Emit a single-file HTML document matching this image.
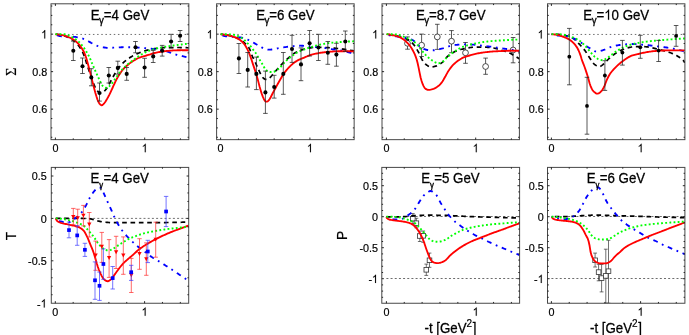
<!DOCTYPE html>
<html><head><meta charset="utf-8"><title>figure</title>
<style>
html,body{margin:0;padding:0;background:#fff;}
body{width:689px;height:335px;overflow:hidden;}
svg{display:block;will-change:transform;}
text{font-family:"Liberation Sans",sans-serif;fill:#000;stroke:#000;stroke-width:0.18px;}
.tk{font-size:10.8px;}
.tt{font-size:13.3px;stroke-width:0.26px;}
.sub{font-size:9.8px;stroke-width:0.3px;}
.sup{font-size:10px;}
.sub2{font-size:7.8px;stroke-width:0.35px;}
.c{fill:none;stroke-linecap:butt;stroke-linejoin:round;}
</style></head><body>
<svg width="689" height="335" viewBox="0 0 689 335">
<rect x="0" y="0" width="689" height="335" fill="#fff"/>
<clipPath id="cp1"><rect x="51" y="3.8" width="137.85" height="135.85"/></clipPath>
<line x1="55.4" y1="34.45" x2="188.85" y2="34.45" stroke="#6e6e6e" stroke-width="1.0" stroke-dasharray="1.5 2.67"/>
<g class="c" clip-path="url(#cp1)">
<path d="M55.40,34.20 L56.40,34.28 L57.40,34.39 L58.40,34.54 L59.40,34.71 L60.40,34.89 L61.40,35.10 L62.40,35.31 L63.40,35.57 L64.40,35.87 L65.40,36.21 L66.40,36.59 L67.40,36.99 L68.40,37.42 L69.40,37.91 L70.40,38.45 L71.40,39.05 L72.40,39.71 L73.40,40.43 L74.40,41.23 L75.40,42.15 L76.40,43.18 L77.40,44.30 L78.40,45.48 L79.40,46.78 L80.40,48.22 L81.40,49.83 L82.40,51.67 L83.40,53.81 L84.40,56.26 L85.40,59.34 L86.40,62.72 L87.40,65.83 L88.40,68.79 L89.40,71.71 L90.40,74.62 L91.40,77.49 L92.40,80.28 L93.40,83.11 L94.40,85.72 L95.40,87.78 L96.40,89.54 L97.40,90.89 L98.40,91.94 L99.40,92.74 L100.40,92.89 L101.40,92.76 L102.40,92.55 L103.40,92.00 L104.40,91.11 L105.40,90.04 L106.40,88.85 L107.40,87.28 L108.40,85.50 L109.40,83.70 L110.40,81.88 L111.40,79.97 L112.40,78.06 L113.40,76.24 L114.40,74.55 L115.40,72.92 L116.40,71.35 L117.40,69.87 L118.40,68.46 L119.40,67.10 L120.40,65.79 L121.40,64.58 L122.40,63.50 L123.40,62.55 L124.40,61.67 L125.40,60.86 L126.40,60.10 L127.40,59.37 L128.40,58.67 L129.40,57.98 L130.40,57.33 L131.40,56.70 L132.40,56.11 L133.40,55.55 L134.40,55.03 L135.40,54.55 L136.40,54.09 L137.40,53.64 L138.40,53.20 L139.40,52.77 L140.40,52.37 L141.40,51.99 L142.40,51.63 L143.40,51.30 L144.40,50.98 L145.40,50.67 L146.40,50.37 L147.40,50.09 L148.40,49.83 L149.40,49.59 L150.40,49.38 L151.40,49.19 L152.40,49.01 L153.40,48.85 L154.40,48.69 L155.40,48.55 L156.40,48.41 L157.40,48.29 L158.40,48.18 L159.40,48.08 L160.40,47.98 L161.40,47.88 L162.40,47.79 L163.40,47.70 L164.40,47.62 L165.40,47.56 L166.40,47.52 L167.40,47.50 L168.40,47.50 L169.40,47.50 L170.40,47.50 L171.40,47.50 L172.40,47.50 L173.40,47.50 L174.40,47.50 L175.40,47.50 L176.40,47.50 L177.40,47.50 L178.40,47.51 L179.40,47.52 L180.40,47.53 L181.40,47.55 L182.40,47.58 L183.40,47.61 L184.40,47.64 L185.40,47.67 L186.40,47.71 L187.40,47.75 L188.40,47.78 L188.80,47.80" stroke="#000000" stroke-width="1.7" stroke-dasharray="4.65 3.7" stroke-dashoffset="7.76"/>
<path d="M55.40,34.20 L56.40,34.85 L57.40,35.38 L58.40,35.72 L59.40,35.98 L60.40,36.20 L61.40,36.35 L62.40,36.42 L63.40,36.47 L64.40,36.50 L65.40,36.53 L66.40,36.56 L67.40,36.58 L68.40,36.61 L69.40,36.64 L70.40,36.67 L71.40,36.69 L72.40,36.73 L73.40,36.77 L74.40,36.83 L75.40,36.94 L76.40,37.10 L77.40,37.29 L78.40,37.48 L79.40,37.69 L80.40,37.92 L81.40,38.18 L82.40,38.48 L83.40,38.80 L84.40,39.19 L85.40,39.66 L86.40,40.19 L87.40,40.74 L88.40,41.29 L89.40,41.83 L90.40,42.39 L91.40,42.96 L92.40,43.50 L93.40,44.03 L94.40,44.57 L95.40,45.10 L96.40,45.57 L97.40,45.97 L98.40,46.28 L99.40,46.55 L100.40,46.79 L101.40,47.00 L102.40,47.19 L103.40,47.35 L104.40,47.51 L105.40,47.66 L106.40,47.76 L107.40,47.80 L108.40,47.79 L109.40,47.78 L110.40,47.76 L111.40,47.73 L112.40,47.71 L113.40,47.68 L114.40,47.64 L115.40,47.60 L116.40,47.55 L117.40,47.50 L118.40,47.45 L119.40,47.39 L120.40,47.33 L121.40,47.26 L122.40,47.21 L123.40,47.20 L124.40,47.20 L125.40,47.20 L126.40,47.20 L127.40,47.20 L128.40,47.20 L129.40,47.20 L130.40,47.21 L131.40,47.24 L132.40,47.28 L133.40,47.32 L134.40,47.37 L135.40,47.42 L136.40,47.47 L137.40,47.53 L138.40,47.59 L139.40,47.66 L140.40,47.73 L141.40,47.81 L142.40,47.89 L143.40,47.97 L144.40,48.06 L145.40,48.14 L146.40,48.23 L147.40,48.33 L148.40,48.43 L149.40,48.54 L150.40,48.65 L151.40,48.77 L152.40,48.89 L153.40,49.03 L154.40,49.18 L155.40,49.34 L156.40,49.52 L157.40,49.71 L158.40,49.90 L159.40,50.09 L160.40,50.27 L161.40,50.46 L162.40,50.64 L163.40,50.82 L164.40,51.01 L165.40,51.22 L166.40,51.44 L167.40,51.67 L168.40,51.95 L169.40,52.27 L170.40,52.63 L171.40,53.00 L172.40,53.39 L173.40,53.77 L174.40,54.13 L175.40,54.45 L176.40,54.74 L177.40,55.00 L178.40,55.24 L179.40,55.47 L180.40,55.70 L181.40,55.92 L182.40,56.15 L183.40,56.38 L184.40,56.63 L185.40,56.88 L186.40,57.15 L187.40,57.42 L188.40,57.69 L188.80,57.80" stroke="#0000ff" stroke-width="1.85" stroke-dasharray="4.8 4.7 1.8 4.7" stroke-dashoffset="13.96"/>
<path d="M55.40,34.30 L56.40,34.35 L57.40,34.44 L58.40,34.55 L59.40,34.69 L60.40,34.84 L61.40,35.01 L62.40,35.19 L63.40,35.42 L64.40,35.70 L65.40,36.01 L66.40,36.35 L67.40,36.71 L68.40,37.09 L69.40,37.50 L70.40,37.96 L71.40,38.45 L72.40,38.99 L73.40,39.59 L74.40,40.23 L75.40,40.98 L76.40,41.83 L77.40,42.76 L78.40,43.78 L79.40,44.90 L80.40,46.19 L81.40,47.64 L82.40,49.23 L83.40,51.00 L84.40,53.02 L85.40,55.42 L86.40,58.55 L87.40,62.09 L88.40,65.69 L89.40,69.46 L90.40,73.36 L91.40,77.30 L92.40,81.36 L93.40,85.39 L94.40,89.30 L95.40,92.98 L96.40,96.30 L97.40,99.35 L98.40,101.76 L99.40,103.69 L100.40,104.73 L101.40,105.28 L102.40,105.01 L103.40,104.11 L104.40,103.07 L105.40,101.73 L106.40,100.11 L107.40,98.34 L108.40,96.54 L109.40,94.61 L110.40,92.53 L111.40,90.41 L112.40,88.24 L113.40,85.99 L114.40,83.81 L115.40,81.72 L116.40,79.68 L117.40,77.79 L118.40,76.10 L119.40,74.50 L120.40,72.98 L121.40,71.55 L122.40,70.23 L123.40,69.03 L124.40,67.96 L125.40,66.98 L126.40,66.07 L127.40,65.22 L128.40,64.41 L129.40,63.63 L130.40,62.87 L131.40,62.15 L132.40,61.45 L133.40,60.80 L134.40,60.18 L135.40,59.59 L136.40,59.02 L137.40,58.48 L138.40,58.01 L139.40,57.61 L140.40,57.27 L141.40,56.96 L142.40,56.67 L143.40,56.38 L144.40,56.08 L145.40,55.78 L146.40,55.49 L147.40,55.19 L148.40,54.90 L149.40,54.59 L150.40,54.27 L151.40,53.90 L152.40,53.54 L153.40,53.25 L154.40,53.01 L155.40,52.78 L156.40,52.57 L157.40,52.37 L158.40,52.18 L159.40,52.01 L160.40,51.85 L161.40,51.70 L162.40,51.55 L163.40,51.42 L164.40,51.29 L165.40,51.16 L166.40,51.03 L167.40,50.91 L168.40,50.81 L169.40,50.71 L170.40,50.62 L171.40,50.55 L172.40,50.50 L173.40,50.45 L174.40,50.40 L175.40,50.36 L176.40,50.32 L177.40,50.28 L178.40,50.25 L179.40,50.23 L180.40,50.21 L181.40,50.20 L182.40,50.20 L183.40,50.20 L184.40,50.20 L185.40,50.20 L186.40,50.20 L187.40,50.20 L188.40,50.20 L188.80,50.20" stroke="#ff0000" stroke-width="1.85"/>
<path d="M55.40,34.10 L56.40,34.10 L57.40,34.11 L58.40,34.12 L59.40,34.13 L60.40,34.15 L61.40,34.18 L62.40,34.21 L63.40,34.24 L64.40,34.28 L65.40,34.33 L66.40,34.53 L67.40,34.86 L68.40,35.30 L69.40,35.80 L70.40,36.33 L71.40,36.85 L72.40,37.36 L73.40,37.92 L74.40,38.52 L75.40,39.17 L76.40,39.88 L77.40,40.63 L78.40,41.44 L79.40,42.34 L80.40,43.39 L81.40,44.55 L82.40,45.80 L83.40,47.10 L84.40,48.52 L85.40,50.06 L86.40,51.67 L87.40,53.36 L88.40,55.17 L89.40,57.13 L90.40,59.30 L91.40,61.71 L92.40,64.10 L93.40,66.44 L94.40,68.75 L95.40,71.03 L96.40,73.27 L97.40,75.49 L98.40,77.65 L99.40,79.70 L100.40,81.84 L101.40,83.93 L102.40,85.56 L103.40,86.53 L104.40,87.30 L105.40,87.75 L106.40,87.74 L107.40,87.44 L108.40,87.00 L109.40,86.21 L110.40,85.18 L111.40,84.08 L112.40,82.85 L113.40,81.46 L114.40,80.00 L115.40,78.54 L116.40,77.15 L117.40,75.73 L118.40,74.31 L119.40,72.91 L120.40,71.59 L121.40,70.39 L122.40,69.28 L123.40,68.24 L124.40,67.26 L125.40,66.33 L126.40,65.44 L127.40,64.60 L128.40,63.80 L129.40,63.03 L130.40,62.27 L131.40,61.53 L132.40,60.77 L133.40,60.01 L134.40,59.26 L135.40,58.51 L136.40,57.78 L137.40,57.08 L138.40,56.40 L139.40,55.75 L140.40,55.13 L141.40,54.54 L142.40,53.98 L143.40,53.42 L144.40,52.88 L145.40,52.36 L146.40,51.87 L147.40,51.41 L148.40,51.00 L149.40,50.62 L150.40,50.26 L151.40,49.92 L152.40,49.60 L153.40,49.30 L154.40,49.02 L155.40,48.75 L156.40,48.50 L157.40,48.27 L158.40,48.06 L159.40,47.85 L160.40,47.65 L161.40,47.46 L162.40,47.27 L163.40,47.09 L164.40,46.91 L165.40,46.73 L166.40,46.55 L167.40,46.39 L168.40,46.23 L169.40,46.07 L170.40,45.93 L171.40,45.80 L172.40,45.67 L173.40,45.55 L174.40,45.43 L175.40,45.31 L176.40,45.19 L177.40,45.06 L178.40,44.93 L179.40,44.80 L180.40,44.67 L181.40,44.53 L182.40,44.40 L183.40,44.27 L184.40,44.15 L185.40,44.03 L186.40,43.92 L187.40,43.82 L188.40,43.73 L188.80,43.70" stroke="#00ff00" stroke-width="1.9" stroke-dasharray="1.85 2.3" stroke-dashoffset="0"/>
</g>
<g clip-path="url(#cp1)">
<path d="M73.3,41.1V60.5M71,41.1H75.6M71,60.5H75.6" stroke="#222" stroke-width="0.75" fill="none"/>
<path d="M82.5,58V73.5M80.2,58H84.8M80.2,73.5H84.8" stroke="#222" stroke-width="0.75" fill="none"/>
<path d="M91.3,68.7V85.8M89,68.7H93.6M89,85.8H93.6" stroke="#222" stroke-width="0.75" fill="none"/>
<path d="M99.5,83V101.1M97.2,83H101.8M97.2,101.1H101.8" stroke="#222" stroke-width="0.75" fill="none"/>
<path d="M108.8,67.5V83M106.5,67.5H111.1M106.5,83H111.1" stroke="#222" stroke-width="0.75" fill="none"/>
<path d="M117.8,61.2V74.1M115.5,61.2H120.1M115.5,74.1H120.1" stroke="#222" stroke-width="0.75" fill="none"/>
<path d="M126.7,67.5V80.3M124.4,67.5H129M124.4,80.3H129" stroke="#222" stroke-width="0.75" fill="none"/>
<path d="M135.5,41.5V52.8M133.2,41.5H137.8M133.2,52.8H137.8" stroke="#222" stroke-width="0.75" fill="none"/>
<path d="M144.6,58.3V77.3M142.3,58.3H146.9M142.3,77.3H146.9" stroke="#222" stroke-width="0.75" fill="none"/>
<path d="M153.2,50.4V62.5M150.9,50.4H155.5M150.9,62.5H155.5" stroke="#222" stroke-width="0.75" fill="none"/>
<path d="M162.2,45.4V56.1M159.9,45.4H164.5M159.9,56.1H164.5" stroke="#222" stroke-width="0.75" fill="none"/>
<path d="M171.1,34.3V48.1M168.8,34.3H173.4M168.8,48.1H173.4" stroke="#222" stroke-width="0.75" fill="none"/>
<path d="M180.1,30.5V41.5M177.8,30.5H182.4M177.8,41.5H182.4" stroke="#222" stroke-width="0.75" fill="none"/>
<circle cx="73.3" cy="50.7" r="2.05" fill="#000"/>
<circle cx="82.5" cy="66.3" r="2.05" fill="#000"/>
<circle cx="91.3" cy="77.4" r="2.05" fill="#000"/>
<circle cx="99.5" cy="93" r="2.05" fill="#000"/>
<circle cx="108.8" cy="75.5" r="2.05" fill="#000"/>
<circle cx="117.8" cy="67.9" r="2.05" fill="#000"/>
<circle cx="126.7" cy="73.9" r="2.05" fill="#000"/>
<circle cx="135.5" cy="47.2" r="2.05" fill="#000"/>
<circle cx="144.6" cy="67.5" r="2.05" fill="#000"/>
<circle cx="153.2" cy="56.4" r="2.05" fill="#000"/>
<circle cx="162.2" cy="50.8" r="2.05" fill="#000"/>
<circle cx="171.1" cy="41.5" r="2.05" fill="#000"/>
<circle cx="180.1" cy="35.8" r="2.05" fill="#000"/>
</g>
<rect x="51" y="3.8" width="137.85" height="135.85" fill="none" stroke="#484848" stroke-width="1.0"/>
<path d="M55.4,139.65v-2.1M55.4,3.8v2.1M73.26,139.65v-1.3M73.26,3.8v1.3M91.12,139.65v-1.3M91.12,3.8v1.3M108.98,139.65v-1.3M108.98,3.8v1.3M126.84,139.65v-1.3M126.84,3.8v1.3M144.7,139.65v-2.1M144.7,3.8v2.1M162.56,139.65v-1.3M162.56,3.8v1.3M180.42,139.65v-1.3M180.42,3.8v1.3M51,137.28h1.3M188.85,137.28h-1.3M51,127.9h1.3M188.85,127.9h-1.3M51,118.52h1.3M188.85,118.52h-1.3M51,109.15h2.1M188.85,109.15h-2.1M51,99.78h1.3M188.85,99.78h-1.3M51,90.4h1.3M188.85,90.4h-1.3M51,81.03h1.3M188.85,81.03h-1.3M51,71.65h2.1M188.85,71.65h-2.1M51,62.27h1.3M188.85,62.27h-1.3M51,52.9h1.3M188.85,52.9h-1.3M51,43.53h1.3M188.85,43.53h-1.3M51,34.15h2.1M188.85,34.15h-2.1M51,24.77h1.3M188.85,24.77h-1.3M51,15.4h1.3M188.85,15.4h-1.3M51,6.02h1.3M188.85,6.02h-1.3" stroke="#111" stroke-width="0.9" fill="none"/>
<path d="M45.22,38.45H44.27V31.95Q43.93,32.3 43.37,32.65Q42.81,33 42.37,33.18V32.19Q43.17,31.79 43.76,31.22Q44.36,30.64 44.61,30.1H45.22Z" fill="#000" stroke="#000" stroke-width="0.12"/>
<text class="tk" transform="translate(47.2,75.95) scale(1,1.075)" text-anchor="end">0.8</text>
<text class="tk" transform="translate(47.2,113.45) scale(1,1.075)" text-anchor="end">0.6</text>
<text class="tk" transform="translate(55.4,152.15) scale(1,1.075)" text-anchor="middle">0</text>
<path d="M145.72,152.15H144.77V145.65Q144.43,146 143.87,146.35Q143.32,146.7 142.87,146.88V145.89Q143.67,145.49 144.27,144.92Q144.86,144.34 145.11,143.8H145.72Z" fill="#000" stroke="#000" stroke-width="0.12"/>
<text class="tt" transform="translate(90.75,19.85) scale(1,1.075)">E</text>
<text class="sub" transform="translate(99.12,23.75) scale(1,1.075)">&#947;</text>
<text class="tt" transform="translate(103.82,19.85) scale(1,1.075)">=4 GeV</text>
<text x="0" y="0" font-size="13.8px" text-anchor="middle" style="font-family:&quot;Liberation Serif&quot;" transform="translate(15.7,71.73) rotate(-90)">&#931;</text>
<clipPath id="cp2"><rect x="216.6" y="3.8" width="137.55" height="135.85"/></clipPath>
<line x1="220.6" y1="34.45" x2="354.15" y2="34.45" stroke="#6e6e6e" stroke-width="1.0" stroke-dasharray="1.5 2.67"/>
<g class="c" clip-path="url(#cp2)">
<path d="M220.70,34.20 L221.70,34.28 L222.70,34.38 L223.70,34.50 L224.70,34.64 L225.70,34.79 L226.70,34.95 L227.70,35.13 L228.70,35.33 L229.70,35.57 L230.70,35.83 L231.70,36.11 L232.70,36.41 L233.70,36.73 L234.70,37.08 L235.70,37.47 L236.70,37.89 L237.70,38.35 L238.70,38.84 L239.70,39.39 L240.70,40.01 L241.70,40.70 L242.70,41.45 L243.70,42.25 L244.70,43.11 L245.70,44.05 L246.70,45.09 L247.70,46.23 L248.70,47.48 L249.70,49.09 L250.70,51.73 L251.70,54.73 L252.70,57.06 L253.70,59.07 L254.70,61.08 L255.70,63.26 L256.70,65.53 L257.70,67.78 L258.70,69.94 L259.70,72.17 L260.70,74.30 L261.70,76.08 L262.70,77.39 L263.70,78.46 L264.70,79.09 L265.70,79.44 L266.70,79.45 L267.70,79.12 L268.70,78.60 L269.70,77.76 L270.70,76.82 L271.70,75.76 L272.70,74.59 L273.70,73.37 L274.70,72.16 L275.70,71.02 L276.70,69.88 L277.70,68.75 L278.70,67.63 L279.70,66.52 L280.70,65.42 L281.70,64.32 L282.70,63.24 L283.70,62.19 L284.70,61.20 L285.70,60.27 L286.70,59.38 L287.70,58.52 L288.70,57.68 L289.70,56.83 L290.70,55.94 L291.70,55.06 L292.70,54.27 L293.70,53.62 L294.70,53.02 L295.70,52.46 L296.70,51.94 L297.70,51.46 L298.70,51.02 L299.70,50.62 L300.70,50.26 L301.70,49.91 L302.70,49.58 L303.70,49.27 L304.70,48.98 L305.70,48.72 L306.70,48.48 L307.70,48.27 L308.70,48.10 L309.70,47.94 L310.70,47.79 L311.70,47.64 L312.70,47.51 L313.70,47.39 L314.70,47.30 L315.70,47.23 L316.70,47.20 L317.70,47.20 L318.70,47.22 L319.70,47.24 L320.70,47.28 L321.70,47.32 L322.70,47.37 L323.70,47.42 L324.70,47.47 L325.70,47.51 L326.70,47.57 L327.70,47.63 L328.70,47.70 L329.70,47.77 L330.70,47.85 L331.70,47.93 L332.70,48.01 L333.70,48.10 L334.70,48.19 L335.70,48.28 L336.70,48.38 L337.70,48.49 L338.70,48.60 L339.70,48.71 L340.70,48.83 L341.70,48.95 L342.70,49.08 L343.70,49.21 L344.70,49.35 L345.70,49.50 L346.70,49.66 L347.70,49.82 L348.70,49.98 L349.70,50.15 L350.70,50.32 L351.70,50.50 L352.70,50.69 L353.70,50.88 L354.30,51.00" stroke="#000000" stroke-width="1.7" stroke-dasharray="4.65 3.7" stroke-dashoffset="1.84"/>
<path d="M220.70,34.20 L221.70,34.90 L222.70,35.51 L223.70,35.93 L224.70,36.12 L225.70,36.25 L226.70,36.35 L227.70,36.43 L228.70,36.50 L229.70,36.58 L230.70,36.65 L231.70,36.72 L232.70,36.78 L233.70,36.84 L234.70,36.90 L235.70,36.98 L236.70,37.06 L237.70,37.15 L238.70,37.25 L239.70,37.36 L240.70,37.50 L241.70,37.68 L242.70,37.91 L243.70,38.19 L244.70,38.51 L245.70,38.86 L246.70,39.23 L247.70,39.62 L248.70,40.02 L249.70,40.49 L250.70,41.01 L251.70,41.58 L252.70,42.17 L253.70,42.78 L254.70,43.38 L255.70,43.96 L256.70,44.54 L257.70,45.14 L258.70,45.75 L259.70,46.35 L260.70,46.92 L261.70,47.45 L262.70,47.95 L263.70,48.45 L264.70,48.90 L265.70,49.23 L266.70,49.43 L267.70,49.58 L268.70,49.68 L269.70,49.69 L270.70,49.62 L271.70,49.49 L272.70,49.34 L273.70,49.18 L274.70,48.98 L275.70,48.74 L276.70,48.51 L277.70,48.30 L278.70,48.12 L279.70,47.96 L280.70,47.80 L281.70,47.65 L282.70,47.51 L283.70,47.36 L284.70,47.21 L285.70,47.06 L286.70,46.90 L287.70,46.74 L288.70,46.59 L289.70,46.44 L290.70,46.32 L291.70,46.22 L292.70,46.14 L293.70,46.05 L294.70,45.98 L295.70,45.91 L296.70,45.84 L297.70,45.79 L298.70,45.74 L299.70,45.71 L300.70,45.70 L301.70,45.71 L302.70,45.75 L303.70,45.82 L304.70,45.90 L305.70,46.00 L306.70,46.10 L307.70,46.20 L308.70,46.30 L309.70,46.39 L310.70,46.50 L311.70,46.60 L312.70,46.71 L313.70,46.83 L314.70,46.94 L315.70,47.06 L316.70,47.17 L317.70,47.27 L318.70,47.38 L319.70,47.48 L320.70,47.57 L321.70,47.68 L322.70,47.78 L323.70,47.89 L324.70,48.01 L325.70,48.14 L326.70,48.29 L327.70,48.46 L328.70,48.63 L329.70,48.82 L330.70,49.00 L331.70,49.17 L332.70,49.33 L333.70,49.48 L334.70,49.61 L335.70,49.74 L336.70,49.87 L337.70,50.00 L338.70,50.14 L339.70,50.29 L340.70,50.45 L341.70,50.63 L342.70,50.82 L343.70,51.04 L344.70,51.26 L345.70,51.50 L346.70,51.74 L347.70,51.99 L348.70,52.25 L349.70,52.50 L350.70,52.77 L351.70,53.04 L352.70,53.33 L353.70,53.62 L354.30,53.80" stroke="#0000ff" stroke-width="1.85" stroke-dasharray="4.8 4.7 1.8 4.7" stroke-dashoffset="13.87"/>
<path d="M220.70,34.30 L221.70,34.38 L222.70,34.48 L223.70,34.61 L224.70,34.75 L225.70,34.90 L226.70,35.07 L227.70,35.25 L228.70,35.45 L229.70,35.69 L230.70,35.95 L231.70,36.23 L232.70,36.54 L233.70,36.87 L234.70,37.24 L235.70,37.65 L236.70,38.11 L237.70,38.62 L238.70,39.18 L239.70,39.82 L240.70,40.57 L241.70,41.44 L242.70,42.42 L243.70,43.50 L244.70,44.77 L245.70,46.27 L246.70,47.98 L247.70,49.90 L248.70,52.17 L249.70,54.69 L250.70,57.37 L251.70,60.32 L252.70,63.39 L253.70,66.39 L254.70,69.34 L255.70,72.37 L256.70,75.64 L257.70,79.34 L258.70,83.13 L259.70,86.93 L260.70,90.39 L261.70,93.62 L262.70,96.34 L263.70,98.73 L264.70,100.56 L265.70,101.51 L266.70,101.64 L267.70,101.30 L268.70,100.36 L269.70,98.98 L270.70,97.23 L271.70,95.25 L272.70,93.29 L273.70,91.43 L274.70,89.56 L275.70,87.70 L276.70,85.87 L277.70,84.03 L278.70,82.22 L279.70,80.45 L280.70,78.70 L281.70,76.97 L282.70,75.31 L283.70,73.81 L284.70,72.44 L285.70,71.15 L286.70,69.93 L287.70,68.77 L288.70,67.66 L289.70,66.59 L290.70,65.58 L291.70,64.67 L292.70,63.84 L293.70,63.06 L294.70,62.32 L295.70,61.63 L296.70,60.99 L297.70,60.41 L298.70,59.89 L299.70,59.42 L300.70,58.99 L301.70,58.58 L302.70,58.19 L303.70,57.78 L304.70,57.36 L305.70,56.94 L306.70,56.51 L307.70,56.09 L308.70,55.69 L309.70,55.32 L310.70,54.99 L311.70,54.70 L312.70,54.42 L313.70,54.16 L314.70,53.92 L315.70,53.69 L316.70,53.48 L317.70,53.29 L318.70,53.11 L319.70,52.95 L320.70,52.78 L321.70,52.63 L322.70,52.49 L323.70,52.35 L324.70,52.22 L325.70,52.11 L326.70,52.00 L327.70,51.91 L328.70,51.82 L329.70,51.74 L330.70,51.66 L331.70,51.58 L332.70,51.51 L333.70,51.45 L334.70,51.39 L335.70,51.35 L336.70,51.31 L337.70,51.29 L338.70,51.28 L339.70,51.26 L340.70,51.25 L341.70,51.23 L342.70,51.22 L343.70,51.21 L344.70,51.21 L345.70,51.20 L346.70,51.20 L347.70,51.20 L348.70,51.22 L349.70,51.24 L350.70,51.26 L351.70,51.30 L352.70,51.33 L353.70,51.37 L354.30,51.40" stroke="#ff0000" stroke-width="1.85"/>
<path d="M220.70,34.10 L221.70,34.10 L222.70,34.11 L223.70,34.13 L224.70,34.15 L225.70,34.18 L226.70,34.22 L227.70,34.26 L228.70,34.31 L229.70,34.36 L230.70,34.42 L231.70,34.48 L232.70,34.57 L233.70,34.73 L234.70,34.97 L235.70,35.27 L236.70,35.61 L237.70,35.98 L238.70,36.38 L239.70,36.82 L240.70,37.37 L241.70,38.01 L242.70,38.74 L243.70,39.52 L244.70,40.33 L245.70,41.23 L246.70,42.27 L247.70,43.36 L248.70,44.40 L249.70,45.34 L250.70,46.32 L251.70,47.49 L252.70,49.01 L253.70,50.56 L254.70,51.81 L255.70,53.01 L256.70,54.54 L257.70,56.46 L258.70,58.17 L259.70,59.79 L260.70,61.43 L261.70,63.09 L262.70,64.77 L263.70,66.59 L264.70,68.29 L265.70,69.58 L266.70,70.64 L267.70,71.22 L268.70,71.59 L269.70,71.86 L270.70,71.99 L271.70,71.98 L272.70,71.89 L273.70,71.75 L274.70,71.51 L275.70,71.01 L276.70,70.35 L277.70,69.60 L278.70,68.81 L279.70,67.84 L280.70,66.77 L281.70,65.70 L282.70,64.61 L283.70,63.48 L284.70,62.35 L285.70,61.30 L286.70,60.33 L287.70,59.42 L288.70,58.55 L289.70,57.72 L290.70,56.93 L291.70,56.17 L292.70,55.43 L293.70,54.71 L294.70,54.02 L295.70,53.36 L296.70,52.76 L297.70,52.20 L298.70,51.71 L299.70,51.25 L300.70,50.84 L301.70,50.44 L302.70,50.06 L303.70,49.68 L304.70,49.30 L305.70,48.92 L306.70,48.55 L307.70,48.20 L308.70,47.85 L309.70,47.51 L310.70,47.19 L311.70,46.88 L312.70,46.58 L313.70,46.28 L314.70,45.99 L315.70,45.71 L316.70,45.43 L317.70,45.17 L318.70,44.93 L319.70,44.69 L320.70,44.48 L321.70,44.27 L322.70,44.08 L323.70,43.88 L324.70,43.70 L325.70,43.53 L326.70,43.36 L327.70,43.21 L328.70,43.07 L329.70,42.95 L330.70,42.83 L331.70,42.73 L332.70,42.64 L333.70,42.55 L334.70,42.47 L335.70,42.39 L336.70,42.31 L337.70,42.24 L338.70,42.17 L339.70,42.10 L340.70,42.03 L341.70,41.96 L342.70,41.89 L343.70,41.82 L344.70,41.76 L345.70,41.70 L346.70,41.64 L347.70,41.58 L348.70,41.53 L349.70,41.48 L350.70,41.44 L351.70,41.39 L352.70,41.36 L353.70,41.32 L354.30,41.30" stroke="#00ff00" stroke-width="1.9" stroke-dasharray="1.85 2.3" stroke-dashoffset="0"/>
</g>
<g clip-path="url(#cp2)">
<path d="M238.9,43.5V73.5M236.6,43.5H241.2M236.6,73.5H241.2" stroke="#222" stroke-width="0.75" fill="none"/>
<path d="M247.7,52.5V87M245.4,52.5H250M245.4,87H250" stroke="#222" stroke-width="0.75" fill="none"/>
<path d="M256.4,57.1V89.6M254.1,57.1H258.7M254.1,89.6H258.7" stroke="#222" stroke-width="0.75" fill="none"/>
<path d="M265.4,71.1V113.4M263.1,71.1H267.7M263.1,113.4H267.7" stroke="#222" stroke-width="0.75" fill="none"/>
<path d="M274.2,75.3V98.1M271.9,75.3H276.5M271.9,98.1H276.5" stroke="#222" stroke-width="0.75" fill="none"/>
<path d="M283.3,52.5V94.3M281,52.5H285.6M281,94.3H285.6" stroke="#222" stroke-width="0.75" fill="none"/>
<path d="M292,35.3V62.4M289.7,35.3H294.3M289.7,62.4H294.3" stroke="#222" stroke-width="0.75" fill="none"/>
<path d="M301,47.9V80.7M298.7,47.9H303.3M298.7,80.7H303.3" stroke="#222" stroke-width="0.75" fill="none"/>
<path d="M309.6,30.5V56M307.3,30.5H311.9M307.3,56H311.9" stroke="#222" stroke-width="0.75" fill="none"/>
<path d="M318.4,34.3V60.5M316.1,34.3H320.7M316.1,60.5H320.7" stroke="#222" stroke-width="0.75" fill="none"/>
<path d="M327.8,41.5V64.3M325.5,41.5H330.1M325.5,64.3H330.1" stroke="#222" stroke-width="0.75" fill="none"/>
<path d="M336.4,43.3V66.2M334.1,43.3H338.7M334.1,66.2H338.7" stroke="#222" stroke-width="0.75" fill="none"/>
<path d="M345.3,31V51.3M343,31H347.6M343,51.3H347.6" stroke="#222" stroke-width="0.75" fill="none"/>
<circle cx="238.9" cy="58.4" r="2.05" fill="#000"/>
<circle cx="247.7" cy="69.9" r="2.05" fill="#000"/>
<circle cx="256.4" cy="73.9" r="2.05" fill="#000"/>
<circle cx="265.4" cy="92.4" r="2.05" fill="#000"/>
<circle cx="274.2" cy="87" r="2.05" fill="#000"/>
<circle cx="283.3" cy="73.9" r="2.05" fill="#000"/>
<circle cx="292" cy="49" r="2.05" fill="#000"/>
<circle cx="301" cy="64.4" r="2.05" fill="#000"/>
<circle cx="309.6" cy="43.3" r="2.05" fill="#000"/>
<circle cx="318.4" cy="47.5" r="2.05" fill="#000"/>
<circle cx="327.8" cy="52.8" r="2.05" fill="#000"/>
<circle cx="336.4" cy="54.6" r="2.05" fill="#000"/>
<circle cx="345.3" cy="41.5" r="2.05" fill="#000"/>
</g>
<rect x="216.6" y="3.8" width="137.55" height="135.85" fill="none" stroke="#484848" stroke-width="1.0"/>
<path d="M220.6,139.65v-2.1M220.6,3.8v2.1M238.46,139.65v-1.3M238.46,3.8v1.3M256.32,139.65v-1.3M256.32,3.8v1.3M274.18,139.65v-1.3M274.18,3.8v1.3M292.04,139.65v-1.3M292.04,3.8v1.3M309.9,139.65v-2.1M309.9,3.8v2.1M327.76,139.65v-1.3M327.76,3.8v1.3M345.62,139.65v-1.3M345.62,3.8v1.3M216.6,137.28h1.3M354.15,137.28h-1.3M216.6,127.9h1.3M354.15,127.9h-1.3M216.6,118.52h1.3M354.15,118.52h-1.3M216.6,109.15h2.1M354.15,109.15h-2.1M216.6,99.78h1.3M354.15,99.78h-1.3M216.6,90.4h1.3M354.15,90.4h-1.3M216.6,81.03h1.3M354.15,81.03h-1.3M216.6,71.65h2.1M354.15,71.65h-2.1M216.6,62.27h1.3M354.15,62.27h-1.3M216.6,52.9h1.3M354.15,52.9h-1.3M216.6,43.53h1.3M354.15,43.53h-1.3M216.6,34.15h2.1M354.15,34.15h-2.1M216.6,24.77h1.3M354.15,24.77h-1.3M216.6,15.4h1.3M354.15,15.4h-1.3M216.6,6.02h1.3M354.15,6.02h-1.3" stroke="#111" stroke-width="0.9" fill="none"/>
<path d="M210.82,38.45H209.87V31.95Q209.53,32.3 208.97,32.65Q208.41,33 207.97,33.18V32.19Q208.77,31.79 209.36,31.22Q209.96,30.64 210.21,30.1H210.82Z" fill="#000" stroke="#000" stroke-width="0.12"/>
<text class="tk" transform="translate(212.8,75.95) scale(1,1.075)" text-anchor="end">0.8</text>
<text class="tk" transform="translate(212.8,113.45) scale(1,1.075)" text-anchor="end">0.6</text>
<text class="tk" transform="translate(220.6,152.15) scale(1,1.075)" text-anchor="middle">0</text>
<path d="M310.92,152.15H309.97V145.65Q309.63,146 309.07,146.35Q308.52,146.7 308.07,146.88V145.89Q308.87,145.49 309.47,144.92Q310.06,144.34 310.31,143.8H310.92Z" fill="#000" stroke="#000" stroke-width="0.12"/>
<text class="tt" transform="translate(256.2,19.85) scale(1,1.075)">E</text>
<text class="sub" transform="translate(264.57,23.75) scale(1,1.075)">&#947;</text>
<text class="tt" transform="translate(269.27,19.85) scale(1,1.075)">=6 GeV</text>
<clipPath id="cp3"><rect x="382" y="3.8" width="137.4" height="135.85"/></clipPath>
<line x1="386.4" y1="34.45" x2="519.4" y2="34.45" stroke="#6e6e6e" stroke-width="1.0" stroke-dasharray="1.5 2.67"/>
<g clip-path="url(#cp3)">
<path d="M407.5,36.9V49.2M405.2,36.9H409.8M405.2,49.2H409.8" stroke="#222" stroke-width="0.75" fill="none"/>
<path d="M421.6,34.1V56.5M419.3,34.1H423.9M419.3,56.5H423.9" stroke="#222" stroke-width="0.75" fill="none"/>
<path d="M437.3,24.3V49.4M435,24.3H439.6M435,49.4H439.6" stroke="#222" stroke-width="0.75" fill="none"/>
<path d="M451.5,30.6V52.7M449.2,30.6H453.8M449.2,52.7H453.8" stroke="#222" stroke-width="0.75" fill="none"/>
<path d="M465.5,42.5V63.3M463.2,42.5H467.8M463.2,63.3H467.8" stroke="#222" stroke-width="0.75" fill="none"/>
<path d="M485.6,58.1V74.3M483.3,58.1H487.9M483.3,74.3H487.9" stroke="#222" stroke-width="0.75" fill="none"/>
<path d="M513.1,37.5V62.8M510.8,37.5H515.4M510.8,62.8H515.4" stroke="#222" stroke-width="0.75" fill="none"/>
<circle cx="407.5" cy="43.3" r="2.9" fill="#fff" stroke="#222" stroke-width="0.8"/>
<circle cx="421.6" cy="45.2" r="2.9" fill="#fff" stroke="#222" stroke-width="0.8"/>
<circle cx="437.3" cy="36.9" r="2.9" fill="#fff" stroke="#222" stroke-width="0.8"/>
<circle cx="451.5" cy="41.2" r="2.9" fill="#fff" stroke="#222" stroke-width="0.8"/>
<circle cx="465.5" cy="52.8" r="2.9" fill="#fff" stroke="#222" stroke-width="0.8"/>
<circle cx="485.6" cy="66.5" r="2.9" fill="#fff" stroke="#222" stroke-width="0.8"/>
<circle cx="513.1" cy="50" r="2.9" fill="#fff" stroke="#222" stroke-width="0.8"/>
</g>
<g class="c" clip-path="url(#cp3)">
<path d="M386.60,34.10 L387.60,34.25 L388.60,34.40 L389.60,34.57 L390.60,34.74 L391.60,34.93 L392.60,35.11 L393.60,35.31 L394.60,35.52 L395.60,35.74 L396.60,35.97 L397.60,36.20 L398.60,36.45 L399.60,36.70 L400.60,36.96 L401.60,37.24 L402.60,37.54 L403.60,37.86 L404.60,38.21 L405.60,38.59 L406.60,39.00 L407.60,39.46 L408.60,39.99 L409.60,40.60 L410.60,41.36 L411.60,42.29 L412.60,43.34 L413.60,44.50 L414.60,45.74 L415.60,47.20 L416.60,48.82 L417.60,50.56 L418.60,52.36 L419.60,54.27 L420.60,56.45 L421.60,58.64 L422.60,60.55 L423.60,61.95 L424.60,63.14 L425.60,64.16 L426.60,65.00 L427.60,65.65 L428.60,66.26 L429.60,66.75 L430.60,66.99 L431.60,66.97 L432.60,66.86 L433.60,66.67 L434.60,66.44 L435.60,66.16 L436.60,65.86 L437.60,65.51 L438.60,65.01 L439.60,64.39 L440.60,63.68 L441.60,62.90 L442.60,62.07 L443.60,61.11 L444.60,59.88 L445.60,58.56 L446.60,57.32 L447.60,56.32 L448.60,55.50 L449.60,54.75 L450.60,54.06 L451.60,53.44 L452.60,52.88 L453.60,52.34 L454.60,51.82 L455.60,51.34 L456.60,50.89 L457.60,50.48 L458.60,50.12 L459.60,49.81 L460.60,49.54 L461.60,49.29 L462.60,49.06 L463.60,48.85 L464.60,48.65 L465.60,48.46 L466.60,48.28 L467.60,48.09 L468.60,47.89 L469.60,47.70 L470.60,47.52 L471.60,47.37 L472.60,47.26 L473.60,47.20 L474.60,47.18 L475.60,47.16 L476.60,47.15 L477.60,47.14 L478.60,47.12 L479.60,47.11 L480.60,47.11 L481.60,47.10 L482.60,47.10 L483.60,47.10 L484.60,47.12 L485.60,47.17 L486.60,47.23 L487.60,47.31 L488.60,47.40 L489.60,47.51 L490.60,47.63 L491.60,47.75 L492.60,47.87 L493.60,48.02 L494.60,48.22 L495.60,48.45 L496.60,48.73 L497.60,49.02 L498.60,49.33 L499.60,49.64 L500.60,49.95 L501.60,50.25 L502.60,50.55 L503.60,50.85 L504.60,51.16 L505.60,51.49 L506.60,51.84 L507.60,52.22 L508.60,52.63 L509.60,53.08 L510.60,53.57 L511.60,54.10 L512.60,54.66 L513.60,55.24 L514.60,55.83 L515.60,56.42 L516.60,57.03 L517.60,57.67 L518.60,58.32 L519.60,59.00" stroke="#000000" stroke-width="1.7" stroke-dasharray="4.65 3.7" stroke-dashoffset="6.25"/>
<path d="M386.60,34.20 L387.60,34.66 L388.60,35.08 L389.60,35.41 L390.60,35.62 L391.60,35.77 L392.60,35.90 L393.60,36.02 L394.60,36.13 L395.60,36.25 L396.60,36.38 L397.60,36.52 L398.60,36.65 L399.60,36.79 L400.60,36.93 L401.60,37.08 L402.60,37.24 L403.60,37.42 L404.60,37.62 L405.60,37.83 L406.60,38.06 L407.60,38.30 L408.60,38.58 L409.60,38.88 L410.60,39.23 L411.60,39.61 L412.60,40.05 L413.60,40.68 L414.60,41.54 L415.60,42.54 L416.60,43.59 L417.60,44.59 L418.60,45.47 L419.60,46.21 L420.60,46.93 L421.60,47.62 L422.60,48.25 L423.60,48.79 L424.60,49.21 L425.60,49.50 L426.60,49.78 L427.60,50.02 L428.60,50.20 L429.60,50.29 L430.60,50.30 L431.60,50.30 L432.60,50.30 L433.60,50.29 L434.60,50.23 L435.60,50.10 L436.60,49.92 L437.60,49.71 L438.60,49.47 L439.60,49.21 L440.60,48.95 L441.60,48.70 L442.60,48.43 L443.60,48.11 L444.60,47.75 L445.60,47.39 L446.60,47.03 L447.60,46.71 L448.60,46.42 L449.60,46.18 L450.60,45.94 L451.60,45.70 L452.60,45.48 L453.60,45.28 L454.60,45.10 L455.60,44.95 L456.60,44.83 L457.60,44.74 L458.60,44.65 L459.60,44.56 L460.60,44.49 L461.60,44.42 L462.60,44.37 L463.60,44.33 L464.60,44.30 L465.60,44.30 L466.60,44.31 L467.60,44.34 L468.60,44.38 L469.60,44.43 L470.60,44.49 L471.60,44.56 L472.60,44.62 L473.60,44.69 L474.60,44.77 L475.60,44.87 L476.60,44.98 L477.60,45.10 L478.60,45.23 L479.60,45.35 L480.60,45.48 L481.60,45.59 L482.60,45.71 L483.60,45.82 L484.60,45.94 L485.60,46.05 L486.60,46.17 L487.60,46.30 L488.60,46.42 L489.60,46.55 L490.60,46.69 L491.60,46.83 L492.60,46.98 L493.60,47.12 L494.60,47.27 L495.60,47.42 L496.60,47.57 L497.60,47.71 L498.60,47.86 L499.60,48.00 L500.60,48.14 L501.60,48.29 L502.60,48.43 L503.60,48.57 L504.60,48.71 L505.60,48.86 L506.60,49.00 L507.60,49.13 L508.60,49.26 L509.60,49.39 L510.60,49.52 L511.60,49.66 L512.60,49.81 L513.60,49.98 L514.60,50.16 L515.60,50.36 L516.60,50.60 L517.60,50.85 L518.60,51.12 L519.60,51.40" stroke="#0000ff" stroke-width="1.85" stroke-dasharray="4.8 4.7 1.8 4.7" stroke-dashoffset="7.18"/>
<path d="M386.60,34.10 L387.60,34.27 L388.60,34.45 L389.60,34.64 L390.60,34.84 L391.60,35.04 L392.60,35.24 L393.60,35.44 L394.60,35.65 L395.60,35.87 L396.60,36.12 L397.60,36.41 L398.60,36.75 L399.60,37.18 L400.60,37.68 L401.60,38.24 L402.60,38.85 L403.60,39.54 L404.60,40.30 L405.60,41.15 L406.60,42.07 L407.60,43.07 L408.60,44.15 L409.60,45.38 L410.60,46.76 L411.60,48.29 L412.60,49.98 L413.60,51.83 L414.60,53.93 L415.60,56.36 L416.60,59.21 L417.60,63.05 L418.60,67.62 L419.60,72.56 L420.60,77.51 L421.60,81.07 L422.60,83.96 L423.60,86.11 L424.60,87.85 L425.60,88.83 L426.60,89.41 L427.60,89.79 L428.60,89.90 L429.60,89.81 L430.60,89.63 L431.60,89.37 L432.60,89.08 L433.60,88.77 L434.60,88.36 L435.60,87.85 L436.60,87.25 L437.60,86.58 L438.60,85.84 L439.60,84.94 L440.60,83.89 L441.60,82.70 L442.60,81.26 L443.60,79.56 L444.60,77.77 L445.60,76.02 L446.60,74.17 L447.60,72.33 L448.60,70.65 L449.60,69.19 L450.60,67.83 L451.60,66.59 L452.60,65.48 L453.60,64.45 L454.60,63.49 L455.60,62.61 L456.60,61.80 L457.60,61.06 L458.60,60.35 L459.60,59.67 L460.60,59.03 L461.60,58.44 L462.60,57.91 L463.60,57.44 L464.60,57.06 L465.60,56.76 L466.60,56.47 L467.60,56.15 L468.60,55.83 L469.60,55.50 L470.60,55.18 L471.60,54.87 L472.60,54.58 L473.60,54.32 L474.60,54.09 L475.60,53.87 L476.60,53.65 L477.60,53.45 L478.60,53.25 L479.60,53.07 L480.60,52.89 L481.60,52.73 L482.60,52.58 L483.60,52.45 L484.60,52.32 L485.60,52.19 L486.60,52.08 L487.60,51.97 L488.60,51.86 L489.60,51.76 L490.60,51.67 L491.60,51.59 L492.60,51.51 L493.60,51.45 L494.60,51.38 L495.60,51.32 L496.60,51.26 L497.60,51.21 L498.60,51.16 L499.60,51.11 L500.60,51.07 L501.60,51.03 L502.60,50.99 L503.60,50.95 L504.60,50.90 L505.60,50.86 L506.60,50.82 L507.60,50.78 L508.60,50.75 L509.60,50.73 L510.60,50.71 L511.60,50.70 L512.60,50.70 L513.60,50.70 L514.60,50.70 L515.60,50.70 L516.60,50.70 L517.60,50.70 L518.60,50.70 L519.60,50.70" stroke="#ff0000" stroke-width="1.85"/>
<path d="M386.60,34.10 L387.60,34.10 L388.60,34.11 L389.60,34.13 L390.60,34.16 L391.60,34.19 L392.60,34.23 L393.60,34.27 L394.60,34.32 L395.60,34.38 L396.60,34.46 L397.60,34.65 L398.60,34.92 L399.60,35.25 L400.60,35.62 L401.60,35.99 L402.60,36.34 L403.60,36.70 L404.60,37.07 L405.60,37.47 L406.60,37.89 L407.60,38.33 L408.60,38.80 L409.60,39.29 L410.60,39.82 L411.60,40.36 L412.60,40.95 L413.60,41.58 L414.60,42.28 L415.60,43.04 L416.60,43.89 L417.60,44.96 L418.60,46.24 L419.60,47.63 L420.60,49.01 L421.60,50.26 L422.60,51.47 L423.60,52.67 L424.60,53.82 L425.60,54.89 L426.60,55.89 L427.60,56.84 L428.60,57.73 L429.60,58.58 L430.60,59.35 L431.60,60.09 L432.60,60.81 L433.60,61.48 L434.60,62.06 L435.60,62.50 L436.60,62.87 L437.60,63.17 L438.60,63.30 L439.60,63.15 L440.60,62.76 L441.60,62.22 L442.60,61.62 L443.60,60.90 L444.60,59.89 L445.60,58.75 L446.60,57.64 L447.60,56.72 L448.60,56.02 L449.60,55.35 L450.60,54.51 L451.60,53.55 L452.60,52.60 L453.60,51.83 L454.60,51.27 L455.60,50.75 L456.60,50.18 L457.60,49.58 L458.60,48.96 L459.60,48.37 L460.60,47.82 L461.60,47.34 L462.60,46.93 L463.60,46.55 L464.60,46.19 L465.60,45.85 L466.60,45.54 L467.60,45.25 L468.60,44.98 L469.60,44.72 L470.60,44.49 L471.60,44.27 L472.60,44.06 L473.60,43.86 L474.60,43.67 L475.60,43.48 L476.60,43.28 L477.60,43.09 L478.60,42.89 L479.60,42.69 L480.60,42.50 L481.60,42.32 L482.60,42.14 L483.60,41.98 L484.60,41.83 L485.60,41.70 L486.60,41.58 L487.60,41.47 L488.60,41.36 L489.60,41.26 L490.60,41.17 L491.60,41.08 L492.60,41.00 L493.60,40.92 L494.60,40.84 L495.60,40.76 L496.60,40.69 L497.60,40.62 L498.60,40.56 L499.60,40.50 L500.60,40.44 L501.60,40.38 L502.60,40.32 L503.60,40.26 L504.60,40.21 L505.60,40.15 L506.60,40.09 L507.60,40.03 L508.60,39.97 L509.60,39.91 L510.60,39.85 L511.60,39.80 L512.60,39.76 L513.60,39.72 L514.60,39.69 L515.60,39.67 L516.60,39.64 L517.60,39.62 L518.60,39.61 L519.60,39.60" stroke="#00ff00" stroke-width="1.9" stroke-dasharray="1.85 2.3" stroke-dashoffset="0"/>
</g>
<rect x="382" y="3.8" width="137.4" height="135.85" fill="none" stroke="#484848" stroke-width="1.0"/>
<path d="M386.4,139.65v-2.1M386.4,3.8v2.1M404.26,139.65v-1.3M404.26,3.8v1.3M422.12,139.65v-1.3M422.12,3.8v1.3M439.98,139.65v-1.3M439.98,3.8v1.3M457.84,139.65v-1.3M457.84,3.8v1.3M475.7,139.65v-2.1M475.7,3.8v2.1M493.56,139.65v-1.3M493.56,3.8v1.3M511.42,139.65v-1.3M511.42,3.8v1.3M382,137.28h1.3M519.4,137.28h-1.3M382,127.9h1.3M519.4,127.9h-1.3M382,118.52h1.3M519.4,118.52h-1.3M382,109.15h2.1M519.4,109.15h-2.1M382,99.78h1.3M519.4,99.78h-1.3M382,90.4h1.3M519.4,90.4h-1.3M382,81.03h1.3M519.4,81.03h-1.3M382,71.65h2.1M519.4,71.65h-2.1M382,62.27h1.3M519.4,62.27h-1.3M382,52.9h1.3M519.4,52.9h-1.3M382,43.53h1.3M519.4,43.53h-1.3M382,34.15h2.1M519.4,34.15h-2.1M382,24.77h1.3M519.4,24.77h-1.3M382,15.4h1.3M519.4,15.4h-1.3M382,6.02h1.3M519.4,6.02h-1.3" stroke="#111" stroke-width="0.9" fill="none"/>
<path d="M376.22,38.45H375.27V31.95Q374.93,32.3 374.37,32.65Q373.81,33 373.37,33.18V32.19Q374.17,31.79 374.76,31.22Q375.36,30.64 375.61,30.1H376.22Z" fill="#000" stroke="#000" stroke-width="0.12"/>
<text class="tk" transform="translate(378.2,75.95) scale(1,1.075)" text-anchor="end">0.8</text>
<text class="tk" transform="translate(378.2,113.45) scale(1,1.075)" text-anchor="end">0.6</text>
<text class="tk" transform="translate(386.4,152.15) scale(1,1.075)" text-anchor="middle">0</text>
<path d="M476.72,152.15H475.77V145.65Q475.43,146 474.87,146.35Q474.32,146.7 473.87,146.88V145.89Q474.67,145.49 475.27,144.92Q475.86,144.34 476.11,143.8H476.72Z" fill="#000" stroke="#000" stroke-width="0.12"/>
<text class="tt" transform="translate(415.98,19.85) scale(1,1.075)">E</text>
<text class="sub" transform="translate(424.35,23.75) scale(1,1.075)">&#947;</text>
<text class="tt" transform="translate(429.05,19.85) scale(1,1.075)">=8.7 GeV</text>
<clipPath id="cp4"><rect x="547.5" y="3.8" width="137.4" height="135.85"/></clipPath>
<line x1="551.4" y1="34.45" x2="684.9" y2="34.45" stroke="#6e6e6e" stroke-width="1.0" stroke-dasharray="1.5 2.67"/>
<g class="c" clip-path="url(#cp4)">
<path d="M551.60,34.10 L552.60,34.11 L553.60,34.14 L554.60,34.18 L555.60,34.24 L556.60,34.31 L557.60,34.39 L558.60,34.47 L559.60,34.56 L560.60,34.66 L561.60,34.79 L562.60,34.95 L563.60,35.14 L564.60,35.35 L565.60,35.59 L566.60,35.84 L567.60,36.12 L568.60,36.41 L569.60,36.73 L570.60,37.12 L571.60,37.57 L572.60,38.09 L573.60,38.69 L574.60,39.44 L575.60,40.33 L576.60,41.32 L577.60,42.36 L578.60,43.40 L579.60,44.42 L580.60,45.47 L581.60,46.55 L582.60,47.68 L583.60,48.86 L584.60,50.11 L585.60,51.47 L586.60,52.98 L587.60,54.58 L588.60,56.18 L589.60,57.70 L590.60,59.23 L591.60,60.82 L592.60,62.32 L593.60,63.58 L594.60,64.44 L595.60,65.14 L596.60,65.77 L597.60,66.26 L598.60,66.55 L599.60,66.57 L600.60,66.22 L601.60,65.61 L602.60,64.83 L603.60,64.01 L604.60,63.20 L605.60,62.21 L606.60,61.11 L607.60,60.00 L608.60,58.99 L609.60,58.09 L610.60,57.20 L611.60,56.35 L612.60,55.54 L613.60,54.77 L614.60,54.07 L615.60,53.41 L616.60,52.77 L617.60,52.16 L618.60,51.58 L619.60,51.04 L620.60,50.54 L621.60,50.07 L622.60,49.65 L623.60,49.24 L624.60,48.86 L625.60,48.51 L626.60,48.19 L627.60,47.92 L628.60,47.69 L629.60,47.45 L630.60,47.22 L631.60,47.02 L632.60,46.84 L633.60,46.70 L634.60,46.62 L635.60,46.60 L636.60,46.60 L637.60,46.60 L638.60,46.60 L639.60,46.60 L640.60,46.60 L641.60,46.60 L642.60,46.60 L643.60,46.62 L644.60,46.68 L645.60,46.75 L646.60,46.85 L647.60,46.96 L648.60,47.08 L649.60,47.20 L650.60,47.36 L651.60,47.57 L652.60,47.83 L653.60,48.11 L654.60,48.40 L655.60,48.68 L656.60,48.95 L657.60,49.19 L658.60,49.42 L659.60,49.65 L660.60,49.88 L661.60,50.12 L662.60,50.36 L663.60,50.62 L664.60,50.89 L665.60,51.18 L666.60,51.47 L667.60,51.77 L668.60,52.10 L669.60,52.44 L670.60,52.81 L671.60,53.20 L672.60,53.62 L673.60,54.07 L674.60,54.54 L675.60,55.05 L676.60,55.59 L677.60,56.17 L678.60,56.78 L679.60,57.43 L680.60,58.16 L681.60,58.98 L682.60,59.86 L683.60,60.81 L684.60,61.80 L684.90,62.10" stroke="#000000" stroke-width="1.7" stroke-dasharray="4.65 3.7" stroke-dashoffset="4.37"/>
<path d="M551.60,34.20 L552.60,34.51 L553.60,34.80 L554.60,35.05 L555.60,35.24 L556.60,35.37 L557.60,35.47 L558.60,35.55 L559.60,35.62 L560.60,35.69 L561.60,35.77 L562.60,35.85 L563.60,35.93 L564.60,36.02 L565.60,36.10 L566.60,36.20 L567.60,36.31 L568.60,36.45 L569.60,36.65 L570.60,36.95 L571.60,37.35 L572.60,37.81 L573.60,38.32 L574.60,38.84 L575.60,39.35 L576.60,39.89 L577.60,40.47 L578.60,41.08 L579.60,41.73 L580.60,42.38 L581.60,43.03 L582.60,43.67 L583.60,44.31 L584.60,44.96 L585.60,45.62 L586.60,46.27 L587.60,46.91 L588.60,47.53 L589.60,48.12 L590.60,48.75 L591.60,49.44 L592.60,50.11 L593.60,50.71 L594.60,51.17 L595.60,51.45 L596.60,51.49 L597.60,51.42 L598.60,51.28 L599.60,51.08 L600.60,50.83 L601.60,50.56 L602.60,50.27 L603.60,49.97 L604.60,49.68 L605.60,49.30 L606.60,48.86 L607.60,48.38 L608.60,47.89 L609.60,47.43 L610.60,47.03 L611.60,46.71 L612.60,46.44 L613.60,46.18 L614.60,45.95 L615.60,45.73 L616.60,45.53 L617.60,45.35 L618.60,45.18 L619.60,45.03 L620.60,44.87 L621.60,44.73 L622.60,44.60 L623.60,44.48 L624.60,44.38 L625.60,44.31 L626.60,44.24 L627.60,44.18 L628.60,44.13 L629.60,44.08 L630.60,44.04 L631.60,44.01 L632.60,44.00 L633.60,44.01 L634.60,44.04 L635.60,44.10 L636.60,44.18 L637.60,44.26 L638.60,44.36 L639.60,44.46 L640.60,44.55 L641.60,44.63 L642.60,44.72 L643.60,44.81 L644.60,44.90 L645.60,44.99 L646.60,45.09 L647.60,45.19 L648.60,45.29 L649.60,45.40 L650.60,45.51 L651.60,45.63 L652.60,45.76 L653.60,45.89 L654.60,46.02 L655.60,46.15 L656.60,46.27 L657.60,46.40 L658.60,46.52 L659.60,46.64 L660.60,46.76 L661.60,46.88 L662.60,47.00 L663.60,47.13 L664.60,47.26 L665.60,47.40 L666.60,47.54 L667.60,47.70 L668.60,47.86 L669.60,48.03 L670.60,48.21 L671.60,48.39 L672.60,48.58 L673.60,48.78 L674.60,48.98 L675.60,49.19 L676.60,49.41 L677.60,49.63 L678.60,49.86 L679.60,50.10 L680.60,50.35 L681.60,50.61 L682.60,50.87 L683.60,51.14 L684.60,51.42 L684.90,51.50" stroke="#0000ff" stroke-width="1.85" stroke-dasharray="4.8 4.7 1.8 4.7" stroke-dashoffset="10.59"/>
<path d="M551.60,34.30 L552.60,34.32 L553.60,34.39 L554.60,34.49 L555.60,34.62 L556.60,34.76 L557.60,34.92 L558.60,35.16 L559.60,35.46 L560.60,35.81 L561.60,36.17 L562.60,36.54 L563.60,36.91 L564.60,37.30 L565.60,37.72 L566.60,38.17 L567.60,38.66 L568.60,39.19 L569.60,39.78 L570.60,40.47 L571.60,41.25 L572.60,42.13 L573.60,43.10 L574.60,44.18 L575.60,45.42 L576.60,46.85 L577.60,48.49 L578.60,50.49 L579.60,52.84 L580.60,55.60 L581.60,59.06 L582.60,61.93 L583.60,64.44 L584.60,66.98 L585.60,69.82 L586.60,72.86 L587.60,76.05 L588.60,79.59 L589.60,83.30 L590.60,86.11 L591.60,88.42 L592.60,90.25 L593.60,91.40 L594.60,92.32 L595.60,93.08 L596.60,93.57 L597.60,93.69 L598.60,93.39 L599.60,92.76 L600.60,91.94 L601.60,90.96 L602.60,89.48 L603.60,87.67 L604.60,85.59 L605.60,82.98 L606.60,80.38 L607.60,78.21 L608.60,76.22 L609.60,74.50 L610.60,73.04 L611.60,71.73 L612.60,70.53 L613.60,69.40 L614.60,68.32 L615.60,67.29 L616.60,66.31 L617.60,65.37 L618.60,64.48 L619.60,63.61 L620.60,62.76 L621.60,61.94 L622.60,61.16 L623.60,60.42 L624.60,59.73 L625.60,59.07 L626.60,58.40 L627.60,57.77 L628.60,57.16 L629.60,56.62 L630.60,56.13 L631.60,55.73 L632.60,55.41 L633.60,55.14 L634.60,54.90 L635.60,54.68 L636.60,54.46 L637.60,54.22 L638.60,53.98 L639.60,53.72 L640.60,53.46 L641.60,53.21 L642.60,52.97 L643.60,52.74 L644.60,52.54 L645.60,52.35 L646.60,52.18 L647.60,52.01 L648.60,51.84 L649.60,51.69 L650.60,51.54 L651.60,51.41 L652.60,51.28 L653.60,51.18 L654.60,51.08 L655.60,51.00 L656.60,50.92 L657.60,50.84 L658.60,50.77 L659.60,50.70 L660.60,50.65 L661.60,50.59 L662.60,50.55 L663.60,50.51 L664.60,50.48 L665.60,50.45 L666.60,50.42 L667.60,50.39 L668.60,50.36 L669.60,50.34 L670.60,50.32 L671.60,50.31 L672.60,50.30 L673.60,50.30 L674.60,50.30 L675.60,50.30 L676.60,50.30 L677.60,50.30 L678.60,50.30 L679.60,50.30 L680.60,50.30 L681.60,50.30 L682.60,50.30 L683.60,50.30 L684.60,50.30 L684.90,50.30" stroke="#ff0000" stroke-width="1.85"/>
<path d="M551.60,34.10 L552.60,34.10 L553.60,34.11 L554.60,34.13 L555.60,34.15 L556.60,34.17 L557.60,34.20 L558.60,34.24 L559.60,34.28 L560.60,34.33 L561.60,34.38 L562.60,34.46 L563.60,34.64 L564.60,34.91 L565.60,35.23 L566.60,35.56 L567.60,35.88 L568.60,36.17 L569.60,36.44 L570.60,36.71 L571.60,37.00 L572.60,37.31 L573.60,37.66 L574.60,38.06 L575.60,38.50 L576.60,38.99 L577.60,39.53 L578.60,40.12 L579.60,40.77 L580.60,41.53 L581.60,42.39 L582.60,43.32 L583.60,44.30 L584.60,45.30 L585.60,46.35 L586.60,47.48 L587.60,48.65 L588.60,49.84 L589.60,51.00 L590.60,52.20 L591.60,53.45 L592.60,54.67 L593.60,55.77 L594.60,56.66 L595.60,57.44 L596.60,58.16 L597.60,58.78 L598.60,59.28 L599.60,59.63 L600.60,59.94 L601.60,60.18 L602.60,60.30 L603.60,60.14 L604.60,59.62 L605.60,58.95 L606.60,58.32 L607.60,57.69 L608.60,57.01 L609.60,56.29 L610.60,55.56 L611.60,54.83 L612.60,54.04 L613.60,53.24 L614.60,52.48 L615.60,51.79 L616.60,51.13 L617.60,50.49 L618.60,49.88 L619.60,49.30 L620.60,48.76 L621.60,48.24 L622.60,47.74 L623.60,47.27 L624.60,46.82 L625.60,46.40 L626.60,46.01 L627.60,45.65 L628.60,45.32 L629.60,45.00 L630.60,44.71 L631.60,44.43 L632.60,44.17 L633.60,43.93 L634.60,43.70 L635.60,43.47 L636.60,43.26 L637.60,43.05 L638.60,42.86 L639.60,42.67 L640.60,42.49 L641.60,42.33 L642.60,42.17 L643.60,42.02 L644.60,41.88 L645.60,41.75 L646.60,41.62 L647.60,41.50 L648.60,41.38 L649.60,41.26 L650.60,41.15 L651.60,41.04 L652.60,40.94 L653.60,40.83 L654.60,40.73 L655.60,40.63 L656.60,40.54 L657.60,40.44 L658.60,40.35 L659.60,40.26 L660.60,40.18 L661.60,40.09 L662.60,40.01 L663.60,39.93 L664.60,39.85 L665.60,39.77 L666.60,39.69 L667.60,39.62 L668.60,39.54 L669.60,39.47 L670.60,39.40 L671.60,39.33 L672.60,39.26 L673.60,39.19 L674.60,39.13 L675.60,39.06 L676.60,39.00 L677.60,38.93 L678.60,38.87 L679.60,38.81 L680.60,38.75 L681.60,38.69 L682.60,38.63 L683.60,38.57 L684.60,38.52 L684.90,38.50" stroke="#00ff00" stroke-width="1.9" stroke-dasharray="1.85 2.3" stroke-dashoffset="0"/>
</g>
<g clip-path="url(#cp4)">
<path d="M569.3,28.4V84.8M567,28.4H571.6M567,84.8H571.6" stroke="#222" stroke-width="0.75" fill="none"/>
<path d="M587,77.3V134.2M584.7,77.3H589.3M584.7,134.2H589.3" stroke="#222" stroke-width="0.75" fill="none"/>
<path d="M604.9,60.7V90.4M602.6,60.7H607.2M602.6,90.4H607.2" stroke="#222" stroke-width="0.75" fill="none"/>
<path d="M622.4,40.4V65.1M620.1,40.4H624.7M620.1,65.1H624.7" stroke="#222" stroke-width="0.75" fill="none"/>
<path d="M640.3,35.3V58.3M638,35.3H642.6M638,58.3H642.6" stroke="#222" stroke-width="0.75" fill="none"/>
<path d="M658.6,40.4V61.5M656.3,40.4H660.9M656.3,61.5H660.9" stroke="#222" stroke-width="0.75" fill="none"/>
<path d="M676.1,25.5V46.3M673.8,25.5H678.4M673.8,46.3H678.4" stroke="#222" stroke-width="0.75" fill="none"/>
<circle cx="569.3" cy="56.7" r="1.9" fill="#000"/>
<circle cx="587" cy="105.9" r="1.9" fill="#000"/>
<circle cx="604.9" cy="75.5" r="1.9" fill="#000"/>
<circle cx="622.4" cy="52.6" r="1.9" fill="#000"/>
<circle cx="640.3" cy="47.3" r="1.9" fill="#000"/>
<circle cx="658.6" cy="50.6" r="1.9" fill="#000"/>
<circle cx="676.1" cy="35.9" r="1.9" fill="#000"/>
</g>
<rect x="547.5" y="3.8" width="137.4" height="135.85" fill="none" stroke="#484848" stroke-width="1.0"/>
<path d="M551.4,139.65v-2.1M551.4,3.8v2.1M569.24,139.65v-1.3M569.24,3.8v1.3M587.08,139.65v-1.3M587.08,3.8v1.3M604.92,139.65v-1.3M604.92,3.8v1.3M622.76,139.65v-1.3M622.76,3.8v1.3M640.6,139.65v-2.1M640.6,3.8v2.1M658.44,139.65v-1.3M658.44,3.8v1.3M676.28,139.65v-1.3M676.28,3.8v1.3M547.5,137.28h1.3M684.9,137.28h-1.3M547.5,127.9h1.3M684.9,127.9h-1.3M547.5,118.52h1.3M684.9,118.52h-1.3M547.5,109.15h2.1M684.9,109.15h-2.1M547.5,99.78h1.3M684.9,99.78h-1.3M547.5,90.4h1.3M684.9,90.4h-1.3M547.5,81.03h1.3M684.9,81.03h-1.3M547.5,71.65h2.1M684.9,71.65h-2.1M547.5,62.27h1.3M684.9,62.27h-1.3M547.5,52.9h1.3M684.9,52.9h-1.3M547.5,43.53h1.3M684.9,43.53h-1.3M547.5,34.15h2.1M684.9,34.15h-2.1M547.5,24.77h1.3M684.9,24.77h-1.3M547.5,15.4h1.3M684.9,15.4h-1.3M547.5,6.02h1.3M684.9,6.02h-1.3" stroke="#111" stroke-width="0.9" fill="none"/>
<path d="M541.72,38.45H540.77V31.95Q540.43,32.3 539.87,32.65Q539.31,33 538.87,33.18V32.19Q539.67,31.79 540.26,31.22Q540.86,30.64 541.11,30.1H541.72Z" fill="#000" stroke="#000" stroke-width="0.12"/>
<text class="tk" transform="translate(543.7,75.95) scale(1,1.075)" text-anchor="end">0.8</text>
<text class="tk" transform="translate(543.7,113.45) scale(1,1.075)" text-anchor="end">0.6</text>
<text class="tk" transform="translate(551.4,152.15) scale(1,1.075)" text-anchor="middle">0</text>
<path d="M641.62,152.15H640.67V145.65Q640.33,146 639.77,146.35Q639.22,146.7 638.77,146.88V145.89Q639.57,145.49 640.17,144.92Q640.76,144.34 641.01,143.8H641.62Z" fill="#000" stroke="#000" stroke-width="0.12"/>
<text class="tt" transform="translate(583.33,19.85) scale(1,1.075)">E</text>
<text class="sub" transform="translate(591.7,23.75) scale(1,1.075)">&#947;</text>
<text class="tt" transform="translate(596.4,19.85) scale(1,1.075)">=</text>
<path d="M609.12,19.85H607.96V11.84Q607.53,12.28 606.85,12.71Q606.16,13.14 605.62,13.36V12.14Q606.6,11.65 607.33,10.94Q608.07,10.24 608.37,9.57H609.12Z" fill="#000" stroke="#000" stroke-width="0.12"/>
<text class="tt" transform="translate(611.56,19.85) scale(1,1.075)">0 GeV</text>
<clipPath id="cp5"><rect x="51.3" y="167.4" width="137.4" height="135.85"/></clipPath>
<line x1="55.3" y1="218.4" x2="188.7" y2="218.4" stroke="#333" stroke-width="0.7" stroke-dasharray="2 2.2"/>
<g class="c" clip-path="url(#cp5)">
<path d="M55.80,218.40 L56.80,218.40 L57.80,218.40 L58.80,218.40 L59.80,218.40 L60.80,218.40 L61.80,218.40 L62.80,218.40 L63.80,218.40 L64.80,218.40 L65.80,218.40 L66.80,218.40 L67.80,218.40 L68.80,218.40 L69.80,218.40 L70.80,218.40 L71.80,218.40 L72.80,218.40 L73.80,218.41 L74.80,218.41 L75.80,218.41 L76.80,218.42 L77.80,218.43 L78.80,218.43 L79.80,218.44 L80.80,218.45 L81.80,218.46 L82.80,218.47 L83.80,218.48 L84.80,218.50 L85.80,218.52 L86.80,218.56 L87.80,218.62 L88.80,218.69 L89.80,218.78 L90.80,218.92 L91.80,219.15 L92.80,219.46 L93.80,219.80 L94.80,220.16 L95.80,220.49 L96.80,220.76 L97.80,220.97 L98.80,221.17 L99.80,221.37 L100.80,221.56 L101.80,221.73 L102.80,221.89 L103.80,222.03 L104.80,222.14 L105.80,222.24 L106.80,222.32 L107.80,222.41 L108.80,222.49 L109.80,222.56 L110.80,222.62 L111.80,222.66 L112.80,222.69 L113.80,222.70 L114.80,222.70 L115.80,222.70 L116.80,222.70 L117.80,222.70 L118.80,222.70 L119.80,222.70 L120.80,222.70 L121.80,222.70 L122.80,222.70 L123.80,222.70 L124.80,222.70 L125.80,222.70 L126.80,222.70 L127.80,222.70 L128.80,222.70 L129.80,222.70 L130.80,222.70 L131.80,222.70 L132.80,222.70 L133.80,222.70 L134.80,222.69 L135.80,222.69 L136.80,222.69 L137.80,222.68 L138.80,222.67 L139.80,222.67 L140.80,222.66 L141.80,222.66 L142.80,222.65 L143.80,222.64 L144.80,222.63 L145.80,222.63 L146.80,222.62 L147.80,222.61 L148.80,222.61 L149.80,222.60 L150.80,222.60 L151.80,222.59 L152.80,222.59 L153.80,222.58 L154.80,222.58 L155.80,222.57 L156.80,222.57 L157.80,222.57 L158.80,222.56 L159.80,222.56 L160.80,222.55 L161.80,222.55 L162.80,222.55 L163.80,222.54 L164.80,222.54 L165.80,222.53 L166.80,222.52 L167.80,222.52 L168.80,222.51 L169.80,222.50 L170.80,222.49 L171.80,222.48 L172.80,222.47 L173.80,222.45 L174.80,222.43 L175.80,222.41 L176.80,222.39 L177.80,222.36 L178.80,222.33 L179.80,222.31 L180.80,222.28 L181.80,222.24 L182.80,222.21 L183.80,222.18 L184.80,222.14 L185.80,222.11 L186.80,222.07 L187.80,222.04 L188.80,222.00" stroke="#000000" stroke-width="1.7" stroke-dasharray="4.65 3.7" stroke-dashoffset="0"/>
<path d="M55.80,218.40 L56.80,219.54 L57.80,220.39 L58.80,220.86 L59.80,221.19 L60.80,221.45 L61.80,221.69 L62.80,221.92 L63.80,222.11 L64.80,222.20 L65.80,222.20 L66.80,222.20 L67.80,222.20 L68.80,222.20 L69.80,222.02 L70.80,221.43 L71.80,220.73 L72.80,220.08 L73.80,219.36 L74.80,218.59 L75.80,217.81 L76.80,216.99 L77.80,216.13 L78.80,215.23 L79.80,214.30 L80.80,213.29 L81.80,212.13 L82.80,210.76 L83.80,209.22 L84.80,207.55 L85.80,205.80 L86.80,203.83 L87.80,201.66 L88.80,199.55 L89.80,197.71 L90.80,195.98 L91.80,194.38 L92.80,192.96 L93.80,191.68 L94.80,190.49 L95.80,189.50 L96.80,188.83 L97.80,188.28 L98.80,187.84 L99.80,187.61 L100.80,187.96 L101.80,189.22 L102.80,190.95 L103.80,193.34 L104.80,195.66 L105.80,197.88 L106.80,200.09 L107.80,202.30 L108.80,204.48 L109.80,206.65 L110.80,208.85 L111.80,211.14 L112.80,213.51 L113.80,215.81 L114.80,217.95 L115.80,219.98 L116.80,221.92 L117.80,223.73 L118.80,225.41 L119.80,227.02 L120.80,228.53 L121.80,229.95 L122.80,231.29 L123.80,232.56 L124.80,233.76 L125.80,234.92 L126.80,236.03 L127.80,237.12 L128.80,238.18 L129.80,239.21 L130.80,240.20 L131.80,241.17 L132.80,242.11 L133.80,243.03 L134.80,243.93 L135.80,244.81 L136.80,245.66 L137.80,246.50 L138.80,247.32 L139.80,248.12 L140.80,248.89 L141.80,249.65 L142.80,250.40 L143.80,251.14 L144.80,251.87 L145.80,252.61 L146.80,253.35 L147.80,254.11 L148.80,254.88 L149.80,255.64 L150.80,256.38 L151.80,257.07 L152.80,257.71 L153.80,258.31 L154.80,258.89 L155.80,259.46 L156.80,260.03 L157.80,260.62 L158.80,261.22 L159.80,261.85 L160.80,262.48 L161.80,263.12 L162.80,263.76 L163.80,264.40 L164.80,265.05 L165.80,265.69 L166.80,266.34 L167.80,266.98 L168.80,267.62 L169.80,268.27 L170.80,268.92 L171.80,269.57 L172.80,270.23 L173.80,270.89 L174.80,271.55 L175.80,272.22 L176.80,272.89 L177.80,273.56 L178.80,274.23 L179.80,274.91 L180.80,275.58 L181.80,276.26 L182.80,276.93 L183.80,277.61 L184.80,278.29 L185.80,278.97 L186.80,279.64 L187.80,280.32 L188.80,281.00" stroke="#0000ff" stroke-width="1.85" stroke-dasharray="4.8 4.7 1.8 4.7" stroke-dashoffset="11.71"/>
<path d="M55.80,218.50 L56.80,220.66 L57.80,221.52 L58.80,222.05 L59.80,222.43 L60.80,222.77 L61.80,223.07 L62.80,223.33 L63.80,223.56 L64.80,223.78 L65.80,223.99 L66.80,224.21 L67.80,224.43 L68.80,224.64 L69.80,224.84 L70.80,225.04 L71.80,225.25 L72.80,225.48 L73.80,225.72 L74.80,225.97 L75.80,226.24 L76.80,226.53 L77.80,226.87 L78.80,227.26 L79.80,227.73 L80.80,228.30 L81.80,229.00 L82.80,229.83 L83.80,230.83 L84.80,232.27 L85.80,234.08 L86.80,236.09 L87.80,238.19 L88.80,240.60 L89.80,243.11 L90.80,245.54 L91.80,247.91 L92.80,250.41 L93.80,253.26 L94.80,256.48 L95.80,259.90 L96.80,263.53 L97.80,266.69 L98.80,269.50 L99.80,271.99 L100.80,274.12 L101.80,276.10 L102.80,277.84 L103.80,279.12 L104.80,279.97 L105.80,280.70 L106.80,281.19 L107.80,281.28 L108.80,280.94 L109.80,280.31 L110.80,279.54 L111.80,278.62 L112.80,277.30 L113.80,275.80 L114.80,274.36 L115.80,272.98 L116.80,271.57 L117.80,270.17 L118.80,268.81 L119.80,267.52 L120.80,266.28 L121.80,265.08 L122.80,263.95 L123.80,262.89 L124.80,261.92 L125.80,261.01 L126.80,260.12 L127.80,259.23 L128.80,258.37 L129.80,257.53 L130.80,256.69 L131.80,255.85 L132.80,254.99 L133.80,254.09 L134.80,253.16 L135.80,252.22 L136.80,251.29 L137.80,250.40 L138.80,249.58 L139.80,248.82 L140.80,248.10 L141.80,247.40 L142.80,246.74 L143.80,246.09 L144.80,245.45 L145.80,244.83 L146.80,244.20 L147.80,243.59 L148.80,242.99 L149.80,242.41 L150.80,241.83 L151.80,241.27 L152.80,240.72 L153.80,240.18 L154.80,239.65 L155.80,239.13 L156.80,238.61 L157.80,238.11 L158.80,237.61 L159.80,237.12 L160.80,236.64 L161.80,236.17 L162.80,235.70 L163.80,235.24 L164.80,234.79 L165.80,234.34 L166.80,233.90 L167.80,233.47 L168.80,233.04 L169.80,232.62 L170.80,232.21 L171.80,231.80 L172.80,231.40 L173.80,231.01 L174.80,230.63 L175.80,230.25 L176.80,229.88 L177.80,229.51 L178.80,229.15 L179.80,228.78 L180.80,228.41 L181.80,228.04 L182.80,227.66 L183.80,227.29 L184.80,226.91 L185.80,226.53 L186.80,226.15 L187.80,225.78 L188.80,225.40" stroke="#ff0000" stroke-width="1.85"/>
<path d="M55.80,218.40 L56.80,218.42 L57.80,218.47 L58.80,218.54 L59.80,218.63 L60.80,218.73 L61.80,218.83 L62.80,218.95 L63.80,219.10 L64.80,219.29 L65.80,219.50 L66.80,219.72 L67.80,219.92 L68.80,220.12 L69.80,220.34 L70.80,220.57 L71.80,220.84 L72.80,221.16 L73.80,221.51 L74.80,221.87 L75.80,222.21 L76.80,222.55 L77.80,222.90 L78.80,223.28 L79.80,223.69 L80.80,224.11 L81.80,224.59 L82.80,225.16 L83.80,225.89 L84.80,226.76 L85.80,227.71 L86.80,228.71 L87.80,229.80 L88.80,230.91 L89.80,232.03 L90.80,233.17 L91.80,234.36 L92.80,235.59 L93.80,236.90 L94.80,238.36 L95.80,239.89 L96.80,241.43 L97.80,243.00 L98.80,244.34 L99.80,245.43 L100.80,246.39 L101.80,247.28 L102.80,248.21 L103.80,249.08 L104.80,249.70 L105.80,249.98 L106.80,250.21 L107.80,250.35 L108.80,250.40 L109.80,250.23 L110.80,249.88 L111.80,249.43 L112.80,248.96 L113.80,248.35 L114.80,247.66 L115.80,246.97 L116.80,246.30 L117.80,245.63 L118.80,244.96 L119.80,244.31 L120.80,243.68 L121.80,243.06 L122.80,242.45 L123.80,241.83 L124.80,241.21 L125.80,240.60 L126.80,240.01 L127.80,239.46 L128.80,238.92 L129.80,238.42 L130.80,237.97 L131.80,237.57 L132.80,237.20 L133.80,236.84 L134.80,236.48 L135.80,236.11 L136.80,235.73 L137.80,235.34 L138.80,234.96 L139.80,234.60 L140.80,234.27 L141.80,233.95 L142.80,233.65 L143.80,233.37 L144.80,233.10 L145.80,232.85 L146.80,232.62 L147.80,232.41 L148.80,232.21 L149.80,232.01 L150.80,231.83 L151.80,231.64 L152.80,231.45 L153.80,231.26 L154.80,231.07 L155.80,230.89 L156.80,230.71 L157.80,230.53 L158.80,230.37 L159.80,230.20 L160.80,230.04 L161.80,229.88 L162.80,229.73 L163.80,229.58 L164.80,229.44 L165.80,229.30 L166.80,229.17 L167.80,229.05 L168.80,228.92 L169.80,228.80 L170.80,228.68 L171.80,228.56 L172.80,228.44 L173.80,228.32 L174.80,228.20 L175.80,228.08 L176.80,227.96 L177.80,227.84 L178.80,227.73 L179.80,227.62 L180.80,227.51 L181.80,227.41 L182.80,227.31 L183.80,227.22 L184.80,227.13 L185.80,227.04 L186.80,226.96 L187.80,226.88 L188.80,226.80" stroke="#00ff00" stroke-width="1.9" stroke-dasharray="1.85 2.3" stroke-dashoffset="0"/>
</g>
<g clip-path="url(#cp5)">
<path d="M73.3,208.4V224.8M71.1,208.4H75.5M71.1,224.8H75.5" stroke="#ff2a2a" stroke-width="0.7" fill="none"/>
<path d="M77.7,209.2V226.4M75.5,209.2H79.9M75.5,226.4H79.9" stroke="#ff2a2a" stroke-width="0.7" fill="none"/>
<path d="M83.4,205.4V225.9M81.2,205.4H85.6M81.2,225.9H85.6" stroke="#ff2a2a" stroke-width="0.7" fill="none"/>
<path d="M89.3,212.5V237M87.1,212.5H91.5M87.1,237H91.5" stroke="#ff2a2a" stroke-width="0.7" fill="none"/>
<path d="M95.6,241.1V270.3M93.4,241.1H97.8M93.4,270.3H97.8" stroke="#ff2a2a" stroke-width="0.7" fill="none"/>
<path d="M101.8,232.4V262.4M99.6,232.4H104M99.6,262.4H104" stroke="#ff2a2a" stroke-width="0.7" fill="none"/>
<path d="M109.1,239.6V277.4M106.9,239.6H111.3M106.9,277.4H111.3" stroke="#ff2a2a" stroke-width="0.7" fill="none"/>
<path d="M116.1,236.3V268.5M113.9,236.3H118.3M113.9,268.5H118.3" stroke="#ff2a2a" stroke-width="0.7" fill="none"/>
<path d="M123.3,236.9V274.3M121.1,236.9H125.5M121.1,274.3H125.5" stroke="#ff2a2a" stroke-width="0.7" fill="none"/>
<path d="M131.3,258.4V292.5M129.1,258.4H133.5M129.1,292.5H133.5" stroke="#ff2a2a" stroke-width="0.7" fill="none"/>
<path d="M139.5,238.7V269.3M137.3,238.7H141.7M137.3,269.3H141.7" stroke="#ff2a2a" stroke-width="0.7" fill="none"/>
<path d="M146.3,242.9V275.3M144.1,242.9H148.5M144.1,275.3H148.5" stroke="#ff2a2a" stroke-width="0.7" fill="none"/>
<path d="M155.7,222.2V257.2M153.5,222.2H157.9M153.5,257.2H157.9" stroke="#ff2a2a" stroke-width="0.7" fill="none"/>
<path d="M71.15,214.94H75.45L73.3,218.89Z" fill="#ff0000"/>
<path d="M75.55,216.14H79.85L77.7,220.09Z" fill="#ff0000"/>
<path d="M81.25,213.64H85.55L83.4,217.59Z" fill="#ff0000"/>
<path d="M87.15,222.54H91.45L89.3,226.49Z" fill="#ff0000"/>
<path d="M93.45,253.44H97.75L95.6,257.39Z" fill="#ff0000"/>
<path d="M99.65,244.84H103.95L101.8,248.79Z" fill="#ff0000"/>
<path d="M106.95,255.94H111.25L109.1,259.89Z" fill="#ff0000"/>
<path d="M113.95,250.24H118.25L116.1,254.19Z" fill="#ff0000"/>
<path d="M121.15,253.44H125.45L123.3,257.39Z" fill="#ff0000"/>
<path d="M129.15,273.34H133.45L131.3,277.29Z" fill="#ff0000"/>
<path d="M137.35,252.04H141.65L139.5,255.99Z" fill="#ff0000"/>
<path d="M144.15,257.34H148.45L146.3,261.29Z" fill="#ff0000"/>
<path d="M153.55,237.64H157.85L155.7,241.59Z" fill="#ff0000"/>
</g>
<g clip-path="url(#cp5)">
<path d="M69,222.1V237.8M66.8,222.1H71.2M66.8,237.8H71.2" stroke="#3a3aff" stroke-width="0.7" fill="none"/>
<path d="M77.2,225.7V245.3M75,225.7H79.4M75,245.3H79.4" stroke="#3a3aff" stroke-width="0.7" fill="none"/>
<path d="M84.9,243.3V256.4M82.7,243.3H87.1M82.7,256.4H87.1" stroke="#3a3aff" stroke-width="0.7" fill="none"/>
<path d="M95,261.9V299.3M92.8,261.9H97.2M92.8,299.3H97.2" stroke="#3a3aff" stroke-width="0.7" fill="none"/>
<path d="M99.5,272.1V300.4M97.3,272.1H101.7M97.3,300.4H101.7" stroke="#3a3aff" stroke-width="0.7" fill="none"/>
<path d="M103.4,248.9V279.3M101.2,248.9H105.6M101.2,279.3H105.6" stroke="#3a3aff" stroke-width="0.7" fill="none"/>
<path d="M112.7,266.5V289M110.5,266.5H114.9M110.5,289H114.9" stroke="#3a3aff" stroke-width="0.7" fill="none"/>
<path d="M131.2,265.3V280.4M129,265.3H133.4M129,280.4H133.4" stroke="#3a3aff" stroke-width="0.7" fill="none"/>
<path d="M147.8,240.3V262.6M145.6,240.3H150M145.6,262.6H150" stroke="#3a3aff" stroke-width="0.7" fill="none"/>
<path d="M166.1,196.4V226.6M163.9,196.4H168.3M163.9,226.6H168.3" stroke="#3a3aff" stroke-width="0.7" fill="none"/>
<rect x="67.15" y="228.25" width="3.7" height="3.7" fill="#0000ff"/>
<rect x="75.35" y="233.55" width="3.7" height="3.7" fill="#0000ff"/>
<rect x="83.05" y="247.95" width="3.7" height="3.7" fill="#0000ff"/>
<rect x="93.15" y="278.45" width="3.7" height="3.7" fill="#0000ff"/>
<rect x="97.65" y="283.95" width="3.7" height="3.7" fill="#0000ff"/>
<rect x="101.55" y="262.15" width="3.7" height="3.7" fill="#0000ff"/>
<rect x="110.85" y="276.25" width="3.7" height="3.7" fill="#0000ff"/>
<rect x="129.35" y="270.35" width="3.7" height="3.7" fill="#0000ff"/>
<rect x="145.95" y="249.65" width="3.7" height="3.7" fill="#0000ff"/>
<rect x="164.25" y="209.65" width="3.7" height="3.7" fill="#0000ff"/>
</g>
<rect x="51.3" y="167.4" width="137.4" height="135.85" fill="none" stroke="#484848" stroke-width="1.0"/>
<path d="M55.3,303.25v-2.1M55.3,167.4v2.1M73.16,303.25v-1.3M73.16,167.4v1.3M91.02,303.25v-1.3M91.02,167.4v1.3M108.88,303.25v-1.3M108.88,167.4v1.3M126.74,303.25v-1.3M126.74,167.4v1.3M144.6,303.25v-2.1M144.6,167.4v2.1M162.46,303.25v-1.3M162.46,167.4v1.3M180.32,303.25v-1.3M180.32,167.4v1.3M51.3,294.72h1.3M188.7,294.72h-1.3M51.3,286.24h1.3M188.7,286.24h-1.3M51.3,277.76h1.3M188.7,277.76h-1.3M51.3,269.28h1.3M188.7,269.28h-1.3M51.3,260.8h2.1M188.7,260.8h-2.1M51.3,252.32h1.3M188.7,252.32h-1.3M51.3,243.84h1.3M188.7,243.84h-1.3M51.3,235.36h1.3M188.7,235.36h-1.3M51.3,226.88h1.3M188.7,226.88h-1.3M51.3,218.4h2.1M188.7,218.4h-2.1M51.3,209.92h1.3M188.7,209.92h-1.3M51.3,201.44h1.3M188.7,201.44h-1.3M51.3,192.96h1.3M188.7,192.96h-1.3M51.3,184.48h1.3M188.7,184.48h-1.3M51.3,176h2.1M188.7,176h-2.1" stroke="#111" stroke-width="0.9" fill="none"/>
<text class="tk" transform="translate(46.7,180.3) scale(1,1.075)" text-anchor="end">0.5</text>
<text class="tk" transform="translate(46.7,222.7) scale(1,1.075)" text-anchor="end">0</text>
<text class="tk" transform="translate(46.7,265.1) scale(1,1.075)" text-anchor="end">-0.5</text>
<text class="tk" transform="translate(37.1,307.5) scale(1,1.075)">-</text>
<path d="M44.72,307.5H43.77V301Q43.43,301.35 42.87,301.7Q42.31,302.05 41.87,302.23V301.24Q42.67,300.84 43.26,300.27Q43.86,299.69 44.11,299.15H44.72Z" fill="#000" stroke="#000" stroke-width="0.12"/>
<text class="tk" transform="translate(55.3,315.75) scale(1,1.075)" text-anchor="middle">0</text>
<path d="M145.62,315.75H144.67V309.25Q144.33,309.6 143.77,309.95Q143.22,310.3 142.77,310.48V309.49Q143.57,309.09 144.17,308.52Q144.76,307.94 145.01,307.4H145.62Z" fill="#000" stroke="#000" stroke-width="0.12"/>
<text class="tt" transform="translate(90.43,182.9) scale(1,1.075)">E</text>
<text class="sub2" transform="translate(99.2,187.6) scale(1,1.075)">&#947;</text>
<text class="tt" transform="translate(103.5,182.9) scale(1,1.075)">=4 GeV</text>
<text x="0" y="0" font-size="13.8px" text-anchor="middle" style="font-family:&quot;Liberation Sans&quot;" transform="translate(16,236.02) rotate(-90)">T</text>
<clipPath id="cp6"><rect x="381.8" y="167.4" width="137.8" height="135.85"/></clipPath>
<line x1="386.4" y1="216.5" x2="519.6" y2="216.5" stroke="#3c3c3c" stroke-width="0.75" stroke-dasharray="2 2.17"/>
<line x1="386.4" y1="278.5" x2="519.6" y2="278.5" stroke="#3c3c3c" stroke-width="0.75" stroke-dasharray="2 2.17"/>
<g clip-path="url(#cp6)">
<path d="M412.8,213.6V223.5M410.9,213.6H414.7M410.9,223.5H414.7" stroke="#333" stroke-width="0.7" fill="none"/>
<path d="M416.4,218.3V227.8M414.5,218.3H418.3M414.5,227.8H418.3" stroke="#333" stroke-width="0.7" fill="none"/>
<path d="M419.8,231V241.5M417.9,231H421.7M417.9,241.5H421.7" stroke="#333" stroke-width="0.7" fill="none"/>
<path d="M423.2,231V242.3M421.3,231H425.1M421.3,242.3H425.1" stroke="#333" stroke-width="0.7" fill="none"/>
<path d="M429.5,253.1V267.3M427.6,253.1H431.4M427.6,267.3H431.4" stroke="#333" stroke-width="0.7" fill="none"/>
<path d="M426.3,264.1V275.4M424.4,264.1H428.2M424.4,275.4H428.2" stroke="#333" stroke-width="0.7" fill="none"/>
<rect x="410.5" y="216.4" width="4.6" height="4.6" fill="#fff" stroke="#333" stroke-width="0.8"/>
<rect x="414.1" y="220.9" width="4.6" height="4.6" fill="#fff" stroke="#333" stroke-width="0.8"/>
<rect x="417.5" y="233.7" width="4.6" height="4.6" fill="#fff" stroke="#333" stroke-width="0.8"/>
<rect x="420.9" y="233.5" width="4.6" height="4.6" fill="#fff" stroke="#333" stroke-width="0.8"/>
<rect x="427.2" y="258" width="4.6" height="4.6" fill="#fff" stroke="#333" stroke-width="0.8"/>
<rect x="424" y="267.5" width="4.6" height="4.6" fill="#fff" stroke="#333" stroke-width="0.8"/>
</g>
<g class="c" clip-path="url(#cp6)">
<path d="M386.40,216.80 L387.40,216.80 L388.40,216.80 L389.40,216.80 L390.40,216.80 L391.40,216.80 L392.40,216.80 L393.40,216.80 L394.40,216.80 L395.40,216.80 L396.40,216.80 L397.40,216.80 L398.40,216.80 L399.40,216.80 L400.40,216.80 L401.40,216.78 L402.40,216.75 L403.40,216.71 L404.40,216.65 L405.40,216.59 L406.40,216.52 L407.40,216.44 L408.40,216.37 L409.40,216.25 L410.40,216.10 L411.40,215.94 L412.40,215.80 L413.40,215.70 L414.40,215.63 L415.40,215.57 L416.40,215.52 L417.40,215.47 L418.40,215.42 L419.40,215.38 L420.40,215.35 L421.40,215.31 L422.40,215.28 L423.40,215.25 L424.40,215.21 L425.40,215.18 L426.40,215.15 L427.40,215.13 L428.40,215.11 L429.40,215.10 L430.40,215.10 L431.40,215.11 L432.40,215.12 L433.40,215.14 L434.40,215.16 L435.40,215.19 L436.40,215.21 L437.40,215.24 L438.40,215.27 L439.40,215.29 L440.40,215.32 L441.40,215.34 L442.40,215.36 L443.40,215.38 L444.40,215.40 L445.40,215.43 L446.40,215.45 L447.40,215.48 L448.40,215.51 L449.40,215.55 L450.40,215.59 L451.40,215.63 L452.40,215.68 L453.40,215.73 L454.40,215.78 L455.40,215.83 L456.40,215.88 L457.40,215.92 L458.40,215.97 L459.40,216.02 L460.40,216.07 L461.40,216.13 L462.40,216.18 L463.40,216.23 L464.40,216.28 L465.40,216.33 L466.40,216.38 L467.40,216.43 L468.40,216.48 L469.40,216.52 L470.40,216.57 L471.40,216.62 L472.40,216.66 L473.40,216.71 L474.40,216.75 L475.40,216.80 L476.40,216.84 L477.40,216.88 L478.40,216.92 L479.40,216.95 L480.40,216.99 L481.40,217.02 L482.40,217.05 L483.40,217.07 L484.40,217.10 L485.40,217.12 L486.40,217.15 L487.40,217.17 L488.40,217.19 L489.40,217.21 L490.40,217.24 L491.40,217.26 L492.40,217.29 L493.40,217.32 L494.40,217.35 L495.40,217.38 L496.40,217.42 L497.40,217.46 L498.40,217.49 L499.40,217.53 L500.40,217.56 L501.40,217.60 L502.40,217.63 L503.40,217.66 L504.40,217.69 L505.40,217.72 L506.40,217.74 L507.40,217.77 L508.40,217.79 L509.40,217.81 L510.40,217.84 L511.40,217.86 L512.40,217.88 L513.40,217.90 L514.40,217.92 L515.40,217.94 L516.40,217.95 L517.40,217.97 L518.40,217.98 L519.40,218.00 L519.60,218.00" stroke="#000000" stroke-width="1.7" stroke-dasharray="4.65 3.7" stroke-dashoffset="0.19"/>
<path d="M386.40,216.80 L387.40,217.51 L388.40,218.15 L389.40,218.63 L390.40,218.87 L391.40,219.04 L392.40,219.19 L393.40,219.31 L394.40,219.41 L395.40,219.47 L396.40,219.50 L397.40,219.49 L398.40,219.45 L399.40,219.37 L400.40,219.27 L401.40,219.13 L402.40,218.76 L403.40,218.23 L404.40,217.66 L405.40,217.06 L406.40,216.38 L407.40,215.65 L408.40,214.91 L409.40,214.22 L410.40,213.53 L411.40,212.77 L412.40,211.87 L413.40,210.84 L414.40,209.69 L415.40,208.43 L416.40,206.97 L417.40,205.26 L418.40,203.47 L419.40,201.77 L420.40,200.23 L421.40,198.70 L422.40,197.24 L423.40,195.91 L424.40,194.79 L425.40,193.80 L426.40,192.92 L427.40,192.25 L428.40,191.73 L429.40,191.27 L430.40,191.02 L431.40,191.11 L432.40,191.58 L433.40,192.23 L434.40,192.95 L435.40,193.92 L436.40,195.11 L437.40,196.57 L438.40,198.45 L439.40,200.50 L440.40,202.43 L441.40,204.11 L442.40,205.73 L443.40,207.29 L444.40,208.80 L445.40,210.30 L446.40,211.78 L447.40,213.23 L448.40,214.59 L449.40,215.84 L450.40,217.00 L451.40,218.10 L452.40,219.14 L453.40,220.13 L454.40,221.06 L455.40,221.95 L456.40,222.77 L457.40,223.55 L458.40,224.29 L459.40,225.01 L460.40,225.72 L461.40,226.44 L462.40,227.17 L463.40,227.88 L464.40,228.58 L465.40,229.28 L466.40,229.95 L467.40,230.61 L468.40,231.24 L469.40,231.87 L470.40,232.48 L471.40,233.08 L472.40,233.67 L473.40,234.23 L474.40,234.78 L475.40,235.32 L476.40,235.82 L477.40,236.31 L478.40,236.79 L479.40,237.26 L480.40,237.73 L481.40,238.21 L482.40,238.70 L483.40,239.20 L484.40,239.71 L485.40,240.22 L486.40,240.72 L487.40,241.22 L488.40,241.72 L489.40,242.19 L490.40,242.66 L491.40,243.12 L492.40,243.58 L493.40,244.02 L494.40,244.47 L495.40,244.91 L496.40,245.34 L497.40,245.78 L498.40,246.20 L499.40,246.62 L500.40,247.04 L501.40,247.46 L502.40,247.88 L503.40,248.30 L504.40,248.73 L505.40,249.16 L506.40,249.59 L507.40,250.03 L508.40,250.46 L509.40,250.89 L510.40,251.32 L511.40,251.74 L512.40,252.16 L513.40,252.58 L514.40,252.99 L515.40,253.40 L516.40,253.81 L517.40,254.22 L518.40,254.62 L519.40,255.02 L519.60,255.10" stroke="#0000ff" stroke-width="1.85" stroke-dasharray="4.8 4.7 1.8 4.7" stroke-dashoffset="9.28"/>
<path d="M386.20,216.90 L387.20,218.36 L388.20,219.11 L389.20,219.49 L390.20,219.75 L391.20,219.96 L392.20,220.13 L393.20,220.28 L394.20,220.42 L395.20,220.56 L396.20,220.69 L397.20,220.82 L398.20,220.93 L399.20,221.05 L400.20,221.16 L401.20,221.29 L402.20,221.43 L403.20,221.57 L404.20,221.73 L405.20,221.89 L406.20,222.08 L407.20,222.30 L408.20,222.56 L409.20,222.89 L410.20,223.27 L411.20,223.75 L412.20,224.35 L413.20,225.07 L414.20,225.88 L415.20,226.84 L416.20,227.93 L417.20,229.12 L418.20,230.47 L419.20,232.00 L420.20,233.70 L421.20,235.59 L422.20,237.71 L423.20,240.05 L424.20,242.79 L425.20,245.83 L426.20,248.71 L427.20,251.48 L428.20,254.12 L429.20,256.75 L430.20,258.86 L431.20,260.50 L432.20,261.60 L433.20,262.22 L434.20,262.65 L435.20,262.87 L436.20,263.01 L437.20,263.09 L438.20,263.08 L439.20,262.95 L440.20,262.74 L441.20,262.47 L442.20,262.17 L443.20,261.71 L444.20,261.10 L445.20,260.40 L446.20,259.64 L447.20,258.70 L448.20,257.59 L449.20,256.45 L450.20,255.39 L451.20,254.47 L452.20,253.60 L453.20,252.76 L454.20,251.95 L455.20,251.18 L456.20,250.43 L457.20,249.70 L458.20,248.99 L459.20,248.30 L460.20,247.64 L461.20,246.99 L462.20,246.36 L463.20,245.76 L464.20,245.17 L465.20,244.60 L466.20,244.04 L467.20,243.50 L468.20,242.97 L469.20,242.47 L470.20,241.98 L471.20,241.52 L472.20,241.07 L473.20,240.64 L474.20,240.23 L475.20,239.83 L476.20,239.43 L477.20,239.05 L478.20,238.66 L479.20,238.27 L480.20,237.88 L481.20,237.48 L482.20,237.09 L483.20,236.69 L484.20,236.30 L485.20,235.91 L486.20,235.52 L487.20,235.13 L488.20,234.74 L489.20,234.36 L490.20,233.98 L491.20,233.60 L492.20,233.22 L493.20,232.85 L494.20,232.49 L495.20,232.13 L496.20,231.77 L497.20,231.42 L498.20,231.06 L499.20,230.71 L500.20,230.36 L501.20,230.00 L502.20,229.64 L503.20,229.27 L504.20,228.89 L505.20,228.52 L506.20,228.14 L507.20,227.76 L508.20,227.38 L509.20,227.00 L510.20,226.62 L511.20,226.26 L512.20,225.89 L513.20,225.53 L514.20,225.18 L515.20,224.82 L516.20,224.47 L517.20,224.12 L518.20,223.78 L519.20,223.44 L519.60,223.30" stroke="#ff0000" stroke-width="1.85"/>
<path d="M386.40,216.70 L387.40,216.70 L388.40,216.71 L389.40,216.73 L390.40,216.75 L391.40,216.77 L392.40,216.80 L393.40,216.84 L394.40,216.87 L395.40,216.92 L396.40,216.97 L397.40,217.03 L398.40,217.16 L399.40,217.36 L400.40,217.60 L401.40,217.87 L402.40,218.14 L403.40,218.41 L404.40,218.69 L405.40,219.00 L406.40,219.33 L407.40,219.67 L408.40,220.01 L409.40,220.36 L410.40,220.73 L411.40,221.16 L412.40,221.63 L413.40,222.16 L414.40,222.76 L415.40,223.45 L416.40,224.30 L417.40,225.28 L418.40,226.31 L419.40,227.39 L420.40,228.52 L421.40,229.65 L422.40,230.77 L423.40,231.91 L424.40,233.11 L425.40,234.37 L426.40,235.62 L427.40,236.91 L428.40,238.10 L429.40,239.04 L430.40,239.87 L431.40,240.53 L432.40,240.94 L433.40,241.28 L434.40,241.54 L435.40,241.69 L436.40,241.69 L437.40,241.67 L438.40,241.62 L439.40,241.55 L440.40,241.46 L441.40,241.25 L442.40,240.96 L443.40,240.60 L444.40,240.22 L445.40,239.77 L446.40,239.23 L447.40,238.64 L448.40,238.01 L449.40,237.29 L450.40,236.52 L451.40,235.79 L452.40,235.16 L453.40,234.59 L454.40,234.06 L455.40,233.55 L456.40,233.05 L457.40,232.54 L458.40,232.02 L459.40,231.50 L460.40,231.00 L461.40,230.52 L462.40,230.09 L463.40,229.72 L464.40,229.38 L465.40,229.06 L466.40,228.77 L467.40,228.50 L468.40,228.23 L469.40,227.97 L470.40,227.72 L471.40,227.48 L472.40,227.24 L473.40,227.02 L474.40,226.81 L475.40,226.61 L476.40,226.43 L477.40,226.26 L478.40,226.09 L479.40,225.94 L480.40,225.79 L481.40,225.65 L482.40,225.51 L483.40,225.37 L484.40,225.23 L485.40,225.10 L486.40,224.96 L487.40,224.82 L488.40,224.69 L489.40,224.57 L490.40,224.45 L491.40,224.34 L492.40,224.24 L493.40,224.15 L494.40,224.06 L495.40,223.98 L496.40,223.91 L497.40,223.84 L498.40,223.78 L499.40,223.71 L500.40,223.64 L501.40,223.57 L502.40,223.49 L503.40,223.41 L504.40,223.33 L505.40,223.24 L506.40,223.15 L507.40,223.07 L508.40,222.98 L509.40,222.90 L510.40,222.81 L511.40,222.74 L512.40,222.66 L513.40,222.59 L514.40,222.52 L515.40,222.46 L516.40,222.39 L517.40,222.33 L518.40,222.27 L519.40,222.21 L519.60,222.20" stroke="#00ff00" stroke-width="1.9" stroke-dasharray="1.85 2.3" stroke-dashoffset="0"/>
</g>
<rect x="381.8" y="167.4" width="137.8" height="135.85" fill="none" stroke="#484848" stroke-width="1.0"/>
<path d="M386.4,303.25v-2.1M386.4,167.4v2.1M404.26,303.25v-1.3M404.26,167.4v1.3M422.12,303.25v-1.3M422.12,167.4v1.3M439.98,303.25v-1.3M439.98,167.4v1.3M457.84,303.25v-1.3M457.84,167.4v1.3M475.7,303.25v-2.1M475.7,167.4v2.1M493.56,303.25v-1.3M493.56,167.4v1.3M511.42,303.25v-1.3M511.42,167.4v1.3M381.8,297.3h1.3M519.6,297.3h-1.3M381.8,291.1h1.3M519.6,291.1h-1.3M381.8,284.9h1.3M519.6,284.9h-1.3M381.8,278.7h2.1M519.6,278.7h-2.1M381.8,272.5h1.3M519.6,272.5h-1.3M381.8,266.3h1.3M519.6,266.3h-1.3M381.8,260.1h1.3M519.6,260.1h-1.3M381.8,253.9h1.3M519.6,253.9h-1.3M381.8,247.7h2.1M519.6,247.7h-2.1M381.8,241.5h1.3M519.6,241.5h-1.3M381.8,235.3h1.3M519.6,235.3h-1.3M381.8,229.1h1.3M519.6,229.1h-1.3M381.8,222.9h1.3M519.6,222.9h-1.3M381.8,216.7h2.1M519.6,216.7h-2.1M381.8,210.5h1.3M519.6,210.5h-1.3M381.8,204.3h1.3M519.6,204.3h-1.3M381.8,198.1h1.3M519.6,198.1h-1.3M381.8,191.9h1.3M519.6,191.9h-1.3M381.8,185.7h2.1M519.6,185.7h-2.1M381.8,179.5h1.3M519.6,179.5h-1.3M381.8,173.3h1.3M519.6,173.3h-1.3" stroke="#111" stroke-width="0.9" fill="none"/>
<text class="tk" transform="translate(378,190) scale(1,1.075)" text-anchor="end">0.5</text>
<text class="tk" transform="translate(378,221) scale(1,1.075)" text-anchor="end">0</text>
<text class="tk" transform="translate(378,252) scale(1,1.075)" text-anchor="end">-0.5</text>
<text class="tk" transform="translate(368.4,283) scale(1,1.075)">-</text>
<path d="M376.02,283H375.07V276.5Q374.73,276.85 374.17,277.2Q373.61,277.55 373.17,277.73V276.74Q373.97,276.34 374.56,275.77Q375.16,275.19 375.41,274.65H376.02Z" fill="#000" stroke="#000" stroke-width="0.12"/>
<text class="tk" transform="translate(386.4,315.75) scale(1,1.075)" text-anchor="middle">0</text>
<path d="M476.72,315.75H475.77V309.25Q475.43,309.6 474.87,309.95Q474.32,310.3 473.87,310.48V309.49Q474.67,309.09 475.27,308.52Q475.86,307.94 476.11,307.4H476.72Z" fill="#000" stroke="#000" stroke-width="0.12"/>
<text class="tt" transform="translate(421.13,182.9) scale(1,1.075)">E</text>
<text class="sub2" transform="translate(429.9,187.6) scale(1,1.075)">&#947;</text>
<text class="tt" transform="translate(434.2,182.9) scale(1,1.075)">=5 GeV</text>
<text x="0" y="0" font-size="13.8px" text-anchor="middle" style="font-family:&quot;Liberation Sans&quot;" transform="translate(346.5,235.32) rotate(-90)">P</text>
<text class="tt" transform="translate(424.5,333) scale(1,1.075)">-t [GeV</text>
<text class="sup" transform="translate(466.6,327.3) scale(1,1.075)">2</text>
<text class="tt" transform="translate(472.8,333) scale(1,1.075)">]</text>
<clipPath id="cp7"><rect x="547.5" y="167.4" width="137.4" height="135.85"/></clipPath>
<line x1="551.4" y1="216.5" x2="684.9" y2="216.5" stroke="#3c3c3c" stroke-width="0.75" stroke-dasharray="2 2.17"/>
<line x1="551.4" y1="278.5" x2="684.9" y2="278.5" stroke="#3c3c3c" stroke-width="0.75" stroke-dasharray="2 2.17"/>
<g clip-path="url(#cp7)">
<path d="M595.1,253.1V267M593.2,253.1H597M593.2,267H597" stroke="#333" stroke-width="0.7" fill="none"/>
<path d="M598.6,264.3V280.8M596.7,264.3H600.5M596.7,280.8H600.5" stroke="#333" stroke-width="0.7" fill="none"/>
<path d="M601.6,264.5V291.9M599.7,264.5H603.5M599.7,291.9H603.5" stroke="#333" stroke-width="0.7" fill="none"/>
<path d="M605.8,249.2V303.2M603.9,249.2H607.7M603.9,303.2H607.7" stroke="#333" stroke-width="0.7" fill="none"/>
<path d="M608.5,240.3V303.2M606.6,240.3H610.4M606.6,303.2H610.4" stroke="#333" stroke-width="0.7" fill="none"/>
<rect x="592.8" y="258" width="4.6" height="4.6" fill="#fff" stroke="#333" stroke-width="0.8"/>
<rect x="596.3" y="269.8" width="4.6" height="4.6" fill="#fff" stroke="#333" stroke-width="0.8"/>
<rect x="599.3" y="275.8" width="4.6" height="4.6" fill="#fff" stroke="#333" stroke-width="0.8"/>
<rect x="603.5" y="273.6" width="4.6" height="4.6" fill="#fff" stroke="#333" stroke-width="0.8"/>
<rect x="606.2" y="268.9" width="4.6" height="4.6" fill="#fff" stroke="#333" stroke-width="0.8"/>
</g>
<g class="c" clip-path="url(#cp7)">
<path d="M551.60,216.70 L552.60,216.70 L553.60,216.70 L554.60,216.70 L555.60,216.70 L556.60,216.70 L557.60,216.70 L558.60,216.70 L559.60,216.70 L560.60,216.70 L561.60,216.70 L562.60,216.70 L563.60,216.70 L564.60,216.70 L565.60,216.70 L566.60,216.68 L567.60,216.64 L568.60,216.60 L569.60,216.54 L570.60,216.48 L571.60,216.41 L572.60,216.34 L573.60,216.26 L574.60,216.19 L575.60,216.13 L576.60,216.06 L577.60,215.99 L578.60,215.91 L579.60,215.83 L580.60,215.75 L581.60,215.68 L582.60,215.60 L583.60,215.54 L584.60,215.49 L585.60,215.44 L586.60,215.39 L587.60,215.34 L588.60,215.30 L589.60,215.26 L590.60,215.23 L591.60,215.21 L592.60,215.20 L593.60,215.20 L594.60,215.20 L595.60,215.20 L596.60,215.20 L597.60,215.20 L598.60,215.20 L599.60,215.20 L600.60,215.20 L601.60,215.20 L602.60,215.22 L603.60,215.25 L604.60,215.29 L605.60,215.33 L606.60,215.38 L607.60,215.43 L608.60,215.47 L609.60,215.50 L610.60,215.53 L611.60,215.56 L612.60,215.59 L613.60,215.62 L614.60,215.64 L615.60,215.67 L616.60,215.69 L617.60,215.72 L618.60,215.74 L619.60,215.77 L620.60,215.79 L621.60,215.82 L622.60,215.84 L623.60,215.87 L624.60,215.89 L625.60,215.91 L626.60,215.94 L627.60,215.96 L628.60,215.99 L629.60,216.01 L630.60,216.04 L631.60,216.06 L632.60,216.09 L633.60,216.12 L634.60,216.15 L635.60,216.18 L636.60,216.21 L637.60,216.25 L638.60,216.28 L639.60,216.31 L640.60,216.35 L641.60,216.38 L642.60,216.42 L643.60,216.46 L644.60,216.49 L645.60,216.53 L646.60,216.57 L647.60,216.61 L648.60,216.66 L649.60,216.70 L650.60,216.75 L651.60,216.79 L652.60,216.84 L653.60,216.88 L654.60,216.92 L655.60,216.96 L656.60,216.99 L657.60,217.02 L658.60,217.05 L659.60,217.08 L660.60,217.11 L661.60,217.13 L662.60,217.16 L663.60,217.18 L664.60,217.20 L665.60,217.23 L666.60,217.25 L667.60,217.27 L668.60,217.30 L669.60,217.32 L670.60,217.35 L671.60,217.37 L672.60,217.40 L673.60,217.42 L674.60,217.45 L675.60,217.47 L676.60,217.50 L677.60,217.52 L678.60,217.55 L679.60,217.57 L680.60,217.59 L681.60,217.62 L682.60,217.64 L683.60,217.67 L684.60,217.69 L684.90,217.70" stroke="#000000" stroke-width="1.7" stroke-dasharray="4.65 3.7" stroke-dashoffset="5.2"/>
<path d="M551.60,216.70 L552.60,217.17 L553.60,217.59 L554.60,217.96 L555.60,218.23 L556.60,218.39 L557.60,218.53 L558.60,218.65 L559.60,218.75 L560.60,218.83 L561.60,218.88 L562.60,218.92 L563.60,218.95 L564.60,218.97 L565.60,218.99 L566.60,219.00 L567.60,218.92 L568.60,218.65 L569.60,218.27 L570.60,217.86 L571.60,217.39 L572.60,216.81 L573.60,216.17 L574.60,215.45 L575.60,214.63 L576.60,213.70 L577.60,212.65 L578.60,211.44 L579.60,210.06 L580.60,208.40 L581.60,206.54 L582.60,204.62 L583.60,202.75 L584.60,200.79 L585.60,198.82 L586.60,197.00 L587.60,195.45 L588.60,194.00 L589.60,192.65 L590.60,191.46 L591.60,190.47 L592.60,189.67 L593.60,188.95 L594.60,188.38 L595.60,187.97 L596.60,187.65 L597.60,187.43 L598.60,187.54 L599.60,188.43 L600.60,189.62 L601.60,191.19 L602.60,193.12 L603.60,195.10 L604.60,197.30 L605.60,199.53 L606.60,201.54 L607.60,203.22 L608.60,204.72 L609.60,206.11 L610.60,207.46 L611.60,208.80 L612.60,210.11 L613.60,211.38 L614.60,212.62 L615.60,213.82 L616.60,215.01 L617.60,216.20 L618.60,217.36 L619.60,218.48 L620.60,219.52 L621.60,220.48 L622.60,221.36 L623.60,222.18 L624.60,222.97 L625.60,223.72 L626.60,224.45 L627.60,225.17 L628.60,225.87 L629.60,226.54 L630.60,227.20 L631.60,227.84 L632.60,228.47 L633.60,229.09 L634.60,229.71 L635.60,230.31 L636.60,230.91 L637.60,231.49 L638.60,232.08 L639.60,232.66 L640.60,233.24 L641.60,233.84 L642.60,234.45 L643.60,235.08 L644.60,235.71 L645.60,236.33 L646.60,236.92 L647.60,237.48 L648.60,238.00 L649.60,238.47 L650.60,238.90 L651.60,239.31 L652.60,239.72 L653.60,240.12 L654.60,240.55 L655.60,241.00 L656.60,241.49 L657.60,242.01 L658.60,242.55 L659.60,243.10 L660.60,243.64 L661.60,244.16 L662.60,244.65 L663.60,245.11 L664.60,245.55 L665.60,245.98 L666.60,246.41 L667.60,246.83 L668.60,247.25 L669.60,247.67 L670.60,248.10 L671.60,248.53 L672.60,248.97 L673.60,249.40 L674.60,249.83 L675.60,250.26 L676.60,250.69 L677.60,251.11 L678.60,251.54 L679.60,251.96 L680.60,252.39 L681.60,252.81 L682.60,253.23 L683.60,253.65 L684.60,254.07 L684.90,254.20" stroke="#0000ff" stroke-width="1.85" stroke-dasharray="4.8 4.7 1.8 4.7" stroke-dashoffset="3.65"/>
<path d="M551.60,217.00 L552.60,218.25 L553.60,218.99 L554.60,219.36 L555.60,219.64 L556.60,219.85 L557.60,220.02 L558.60,220.18 L559.60,220.31 L560.60,220.43 L561.60,220.53 L562.60,220.62 L563.60,220.72 L564.60,220.82 L565.60,220.93 L566.60,221.04 L567.60,221.15 L568.60,221.25 L569.60,221.37 L570.60,221.49 L571.60,221.64 L572.60,221.82 L573.60,222.05 L574.60,222.34 L575.60,222.70 L576.60,223.12 L577.60,223.61 L578.60,224.28 L579.60,225.12 L580.60,226.11 L581.60,227.38 L582.60,228.94 L583.60,230.65 L584.60,232.53 L585.60,234.60 L586.60,236.46 L587.60,238.29 L588.60,241.31 L589.60,245.81 L590.60,252.06 L591.60,255.66 L592.60,257.98 L593.60,259.59 L594.60,260.88 L595.60,261.77 L596.60,262.28 L597.60,262.71 L598.60,263.05 L599.60,263.29 L600.60,263.40 L601.60,263.40 L602.60,263.40 L603.60,263.40 L604.60,263.40 L605.60,263.40 L606.60,263.28 L607.60,262.94 L608.60,262.46 L609.60,261.88 L610.60,261.27 L611.60,260.39 L612.60,259.25 L613.60,258.01 L614.60,256.82 L615.60,255.82 L616.60,254.92 L617.60,254.06 L618.60,253.21 L619.60,252.35 L620.60,251.45 L621.60,250.48 L622.60,249.52 L623.60,248.61 L624.60,247.83 L625.60,247.14 L626.60,246.49 L627.60,245.89 L628.60,245.32 L629.60,244.77 L630.60,244.25 L631.60,243.75 L632.60,243.25 L633.60,242.76 L634.60,242.29 L635.60,241.85 L636.60,241.41 L637.60,240.99 L638.60,240.57 L639.60,240.16 L640.60,239.75 L641.60,239.34 L642.60,238.92 L643.60,238.49 L644.60,238.07 L645.60,237.64 L646.60,237.22 L647.60,236.80 L648.60,236.38 L649.60,235.97 L650.60,235.56 L651.60,235.16 L652.60,234.76 L653.60,234.38 L654.60,233.99 L655.60,233.62 L656.60,233.25 L657.60,232.87 L658.60,232.50 L659.60,232.13 L660.60,231.75 L661.60,231.36 L662.60,230.97 L663.60,230.57 L664.60,230.17 L665.60,229.78 L666.60,229.38 L667.60,228.99 L668.60,228.60 L669.60,228.22 L670.60,227.83 L671.60,227.45 L672.60,227.06 L673.60,226.68 L674.60,226.30 L675.60,225.91 L676.60,225.53 L677.60,225.15 L678.60,224.77 L679.60,224.39 L680.60,224.02 L681.60,223.64 L682.60,223.26 L683.60,222.89 L684.60,222.51 L684.90,222.40" stroke="#ff0000" stroke-width="1.85"/>
<path d="M551.60,216.70 L552.60,216.72 L553.60,216.76 L554.60,216.82 L555.60,216.89 L556.60,216.97 L557.60,217.06 L558.60,217.17 L559.60,217.31 L560.60,217.48 L561.60,217.67 L562.60,217.85 L563.60,218.01 L564.60,218.17 L565.60,218.32 L566.60,218.48 L567.60,218.65 L568.60,218.84 L569.60,219.05 L570.60,219.27 L571.60,219.52 L572.60,219.79 L573.60,220.08 L574.60,220.40 L575.60,220.76 L576.60,221.18 L577.60,221.66 L578.60,222.18 L579.60,222.74 L580.60,223.37 L581.60,224.06 L582.60,224.80 L583.60,225.59 L584.60,226.44 L585.60,227.40 L586.60,228.50 L587.60,229.72 L588.60,231.05 L589.60,232.55 L590.60,234.00 L591.60,235.35 L592.60,236.55 L593.60,237.34 L594.60,237.99 L595.60,238.49 L596.60,238.83 L597.60,239.07 L598.60,239.28 L599.60,239.43 L600.60,239.50 L601.60,239.50 L602.60,239.48 L603.60,239.46 L604.60,239.43 L605.60,239.39 L606.60,239.27 L607.60,239.05 L608.60,238.77 L609.60,238.47 L610.60,238.07 L611.60,237.57 L612.60,237.01 L613.60,236.40 L614.60,235.71 L615.60,235.00 L616.60,234.35 L617.60,233.73 L618.60,233.13 L619.60,232.57 L620.60,232.05 L621.60,231.57 L622.60,231.11 L623.60,230.68 L624.60,230.26 L625.60,229.86 L626.60,229.47 L627.60,229.09 L628.60,228.73 L629.60,228.39 L630.60,228.07 L631.60,227.77 L632.60,227.48 L633.60,227.21 L634.60,226.95 L635.60,226.71 L636.60,226.48 L637.60,226.25 L638.60,226.03 L639.60,225.82 L640.60,225.62 L641.60,225.43 L642.60,225.26 L643.60,225.10 L644.60,224.96 L645.60,224.82 L646.60,224.70 L647.60,224.58 L648.60,224.46 L649.60,224.36 L650.60,224.25 L651.60,224.14 L652.60,224.04 L653.60,223.93 L654.60,223.83 L655.60,223.73 L656.60,223.63 L657.60,223.54 L658.60,223.45 L659.60,223.36 L660.60,223.28 L661.60,223.20 L662.60,223.12 L663.60,223.05 L664.60,222.98 L665.60,222.91 L666.60,222.85 L667.60,222.78 L668.60,222.71 L669.60,222.64 L670.60,222.57 L671.60,222.49 L672.60,222.42 L673.60,222.35 L674.60,222.28 L675.60,222.21 L676.60,222.14 L677.60,222.06 L678.60,221.99 L679.60,221.91 L680.60,221.84 L681.60,221.76 L682.60,221.68 L683.60,221.60 L684.60,221.52 L684.90,221.50" stroke="#00ff00" stroke-width="1.9" stroke-dasharray="1.85 2.3" stroke-dashoffset="0"/>
</g>
<rect x="547.5" y="167.4" width="137.4" height="135.85" fill="none" stroke="#484848" stroke-width="1.0"/>
<path d="M551.4,303.25v-2.1M551.4,167.4v2.1M569.24,303.25v-1.3M569.24,167.4v1.3M587.08,303.25v-1.3M587.08,167.4v1.3M604.92,303.25v-1.3M604.92,167.4v1.3M622.76,303.25v-1.3M622.76,167.4v1.3M640.6,303.25v-2.1M640.6,167.4v2.1M658.44,303.25v-1.3M658.44,167.4v1.3M676.28,303.25v-1.3M676.28,167.4v1.3M547.5,297.3h1.3M684.9,297.3h-1.3M547.5,291.1h1.3M684.9,291.1h-1.3M547.5,284.9h1.3M684.9,284.9h-1.3M547.5,278.7h2.1M684.9,278.7h-2.1M547.5,272.5h1.3M684.9,272.5h-1.3M547.5,266.3h1.3M684.9,266.3h-1.3M547.5,260.1h1.3M684.9,260.1h-1.3M547.5,253.9h1.3M684.9,253.9h-1.3M547.5,247.7h2.1M684.9,247.7h-2.1M547.5,241.5h1.3M684.9,241.5h-1.3M547.5,235.3h1.3M684.9,235.3h-1.3M547.5,229.1h1.3M684.9,229.1h-1.3M547.5,222.9h1.3M684.9,222.9h-1.3M547.5,216.7h2.1M684.9,216.7h-2.1M547.5,210.5h1.3M684.9,210.5h-1.3M547.5,204.3h1.3M684.9,204.3h-1.3M547.5,198.1h1.3M684.9,198.1h-1.3M547.5,191.9h1.3M684.9,191.9h-1.3M547.5,185.7h2.1M684.9,185.7h-2.1M547.5,179.5h1.3M684.9,179.5h-1.3M547.5,173.3h1.3M684.9,173.3h-1.3" stroke="#111" stroke-width="0.9" fill="none"/>
<text class="tk" transform="translate(543.7,190) scale(1,1.075)" text-anchor="end">0.5</text>
<text class="tk" transform="translate(543.7,221) scale(1,1.075)" text-anchor="end">0</text>
<text class="tk" transform="translate(543.7,252) scale(1,1.075)" text-anchor="end">-0.5</text>
<text class="tk" transform="translate(534.1,283) scale(1,1.075)">-</text>
<path d="M541.72,283H540.77V276.5Q540.43,276.85 539.87,277.2Q539.31,277.55 538.87,277.73V276.74Q539.67,276.34 540.26,275.77Q540.86,275.19 541.11,274.65H541.72Z" fill="#000" stroke="#000" stroke-width="0.12"/>
<text class="tk" transform="translate(551.4,315.75) scale(1,1.075)" text-anchor="middle">0</text>
<path d="M641.62,315.75H640.67V309.25Q640.33,309.6 639.77,309.95Q639.22,310.3 638.77,310.48V309.49Q639.57,309.09 640.17,308.52Q640.76,307.94 641.01,307.4H641.62Z" fill="#000" stroke="#000" stroke-width="0.12"/>
<text class="tt" transform="translate(586.63,182.9) scale(1,1.075)">E</text>
<text class="sub2" transform="translate(595.4,187.6) scale(1,1.075)">&#947;</text>
<text class="tt" transform="translate(599.7,182.9) scale(1,1.075)">=6 GeV</text>
<text class="tt" transform="translate(590,333) scale(1,1.075)">-t [GeV</text>
<text class="sup" transform="translate(632.1,327.3) scale(1,1.075)">2</text>
<text class="tt" transform="translate(638.3,333) scale(1,1.075)">]</text>
</svg></body></html>
